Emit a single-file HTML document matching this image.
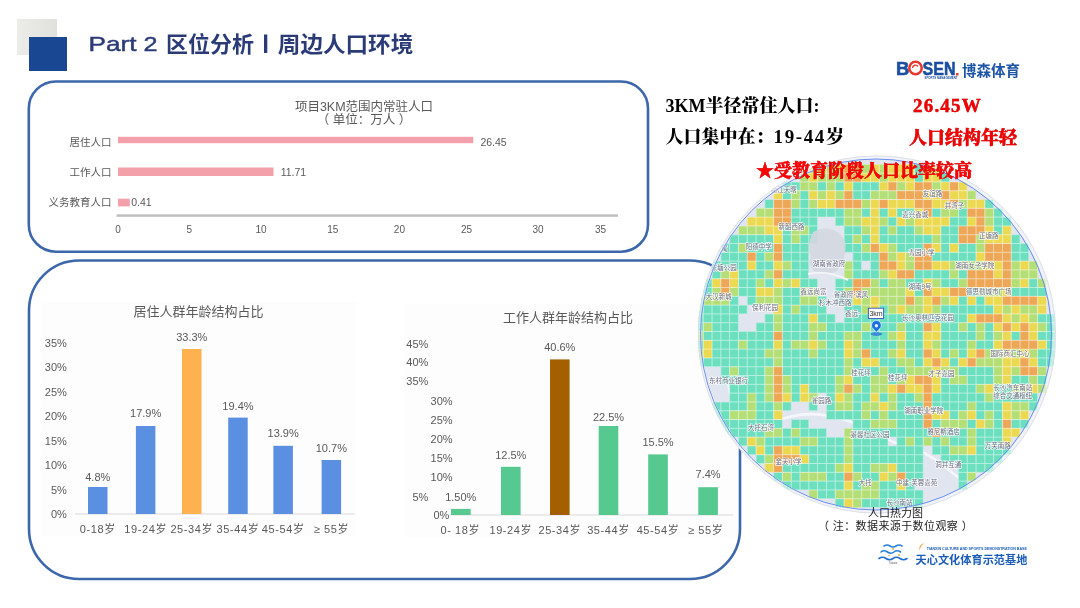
<!DOCTYPE html>
<html><head><meta charset="utf-8"><title>Part 2 区位分析丨周边人口环境</title>
<style>html,body{margin:0;padding:0;background:#fff;}body{width:1080px;height:608px;overflow:hidden;}svg{display:block;}</style>
</head><body>
<svg width="1080" height="608" viewBox="0 0 1080 608">
<rect width="1080" height="608" fill="#ffffff"/>
<defs><linearGradient id="gs" x1="0" x2="1" y1="0" y2="0"><stop offset="0" stop-color="#ececE8"/><stop offset="1" stop-color="#e0e1dc"/></linearGradient></defs>
<rect x="17" y="19" width="40" height="36" fill="url(#gs)"/>
<rect x="29" y="37" width="38" height="34" fill="#1a4791"/>
<text x="88.5" y="51.3" font-size="21" fill="#2a3b78" text-anchor="start" font-family="'Liberation Sans','Noto Sans CJK SC',sans-serif" font-weight="normal" stroke="#2a3b78" stroke-width="0.45" textLength="48" lengthAdjust="spacingAndGlyphs">Part</text>
<text x="143.5" y="51.3" font-size="21" fill="#2a3b78" text-anchor="start" font-family="'Liberation Sans','Noto Sans CJK SC',sans-serif" font-weight="normal" stroke="#2a3b78" stroke-width="0.45" textLength="14" lengthAdjust="spacingAndGlyphs">2</text>
<text x="166" y="51.6" font-size="21.5" fill="#2a3b78" text-anchor="start" font-family="'Liberation Sans','Noto Sans CJK SC',sans-serif" font-weight="bold" textLength="88" lengthAdjust="spacingAndGlyphs">区位分析</text>
<rect x="264" y="34.5" width="3.3" height="18.5" fill="#2a3b78"/>
<text x="277.8" y="51.6" font-size="21.5" fill="#2a3b78" text-anchor="start" font-family="'Liberation Sans','Noto Sans CJK SC',sans-serif" font-weight="bold" textLength="135.5" lengthAdjust="spacingAndGlyphs">周边人口环境</text>
<rect x="28.8" y="81.5" width="619.2" height="170.2" rx="27" fill="none" stroke="#3d67ab" stroke-width="2.6"/>
<rect x="29" y="260.5" width="711" height="318.5" rx="50" fill="none" stroke="#3d67ab" stroke-width="2.6"/>
<text x="364" y="110.5" font-size="12.5" fill="#595959" text-anchor="middle" font-family="'Liberation Sans','Noto Sans CJK SC',sans-serif" font-weight="normal" >项目3KM范围内常驻人口</text>
<text x="364" y="124" font-size="12.5" fill="#595959" text-anchor="middle" font-family="'Liberation Sans','Noto Sans CJK SC',sans-serif" font-weight="normal" >（ 单位：万人 ）</text>
<text x="111.5" y="145.5" font-size="10.5" fill="#595959" text-anchor="end" font-family="'Liberation Sans','Noto Sans CJK SC',sans-serif" font-weight="normal" >居住人口</text>
<text x="111.5" y="176" font-size="10.5" fill="#595959" text-anchor="end" font-family="'Liberation Sans','Noto Sans CJK SC',sans-serif" font-weight="normal" >工作人口</text>
<text x="111.5" y="206.3" font-size="10.5" fill="#595959" text-anchor="end" font-family="'Liberation Sans','Noto Sans CJK SC',sans-serif" font-weight="normal" >义务教育人口</text>
<rect x="118" y="136.8" width="355.3" height="6.4" fill="#f3a0aa"/>
<rect x="118" y="167.5" width="155.5" height="8.5" fill="#f3a0aa"/>
<rect x="118" y="198.7" width="11.8" height="7.7" fill="#f3a0aa"/>
<text x="480.4" y="145.6" font-size="10.5" fill="#595959" text-anchor="start" font-family="'Liberation Sans','Noto Sans CJK SC',sans-serif" font-weight="normal" >26.45</text>
<text x="280.7" y="176" font-size="10.5" fill="#595959" text-anchor="start" font-family="'Liberation Sans','Noto Sans CJK SC',sans-serif" font-weight="normal" >11.71</text>
<text x="131.2" y="206.4" font-size="10.5" fill="#595959" text-anchor="start" font-family="'Liberation Sans','Noto Sans CJK SC',sans-serif" font-weight="normal" >0.41</text>
<rect x="116.6" y="214.3" width="501.4" height="2.5" fill="#bfbfbf"/>
<text x="118" y="233.2" font-size="10" fill="#595959" text-anchor="middle" font-family="'Liberation Sans','Noto Sans CJK SC',sans-serif" font-weight="normal" >0</text>
<text x="189.4" y="233.2" font-size="10" fill="#595959" text-anchor="middle" font-family="'Liberation Sans','Noto Sans CJK SC',sans-serif" font-weight="normal" >5</text>
<text x="261" y="233.2" font-size="10" fill="#595959" text-anchor="middle" font-family="'Liberation Sans','Noto Sans CJK SC',sans-serif" font-weight="normal" >10</text>
<text x="332.7" y="233.2" font-size="10" fill="#595959" text-anchor="middle" font-family="'Liberation Sans','Noto Sans CJK SC',sans-serif" font-weight="normal" >15</text>
<text x="399.4" y="233.2" font-size="10" fill="#595959" text-anchor="middle" font-family="'Liberation Sans','Noto Sans CJK SC',sans-serif" font-weight="normal" >20</text>
<text x="466.5" y="233.2" font-size="10" fill="#595959" text-anchor="middle" font-family="'Liberation Sans','Noto Sans CJK SC',sans-serif" font-weight="normal" >25</text>
<text x="538" y="233.2" font-size="10" fill="#595959" text-anchor="middle" font-family="'Liberation Sans','Noto Sans CJK SC',sans-serif" font-weight="normal" >30</text>
<text x="600.6" y="233.2" font-size="10" fill="#595959" text-anchor="middle" font-family="'Liberation Sans','Noto Sans CJK SC',sans-serif" font-weight="normal" >35</text>
<rect x="41.7" y="302" width="314.3" height="234" fill="#fdfdfd"/>
<rect x="403.8" y="303.8" width="333" height="233" fill="#fdfdfd"/>
<text x="198.5" y="316" font-size="13" fill="#595959" text-anchor="middle" font-family="'Liberation Sans','Noto Sans CJK SC',sans-serif" font-weight="normal" >居住人群年龄结构占比</text>
<text x="66.8" y="518.3" font-size="11" fill="#595959" text-anchor="end" font-family="'Liberation Sans','Noto Sans CJK SC',sans-serif" font-weight="normal" >0%</text>
<text x="66.8" y="493.79999999999995" font-size="11" fill="#595959" text-anchor="end" font-family="'Liberation Sans','Noto Sans CJK SC',sans-serif" font-weight="normal" >5%</text>
<text x="66.8" y="469.29999999999995" font-size="11" fill="#595959" text-anchor="end" font-family="'Liberation Sans','Noto Sans CJK SC',sans-serif" font-weight="normal" >10%</text>
<text x="66.8" y="444.79999999999995" font-size="11" fill="#595959" text-anchor="end" font-family="'Liberation Sans','Noto Sans CJK SC',sans-serif" font-weight="normal" >15%</text>
<text x="66.8" y="420.29999999999995" font-size="11" fill="#595959" text-anchor="end" font-family="'Liberation Sans','Noto Sans CJK SC',sans-serif" font-weight="normal" >20%</text>
<text x="66.8" y="395.79999999999995" font-size="11" fill="#595959" text-anchor="end" font-family="'Liberation Sans','Noto Sans CJK SC',sans-serif" font-weight="normal" >25%</text>
<text x="66.8" y="371.29999999999995" font-size="11" fill="#595959" text-anchor="end" font-family="'Liberation Sans','Noto Sans CJK SC',sans-serif" font-weight="normal" >30%</text>
<text x="66.8" y="346.79999999999995" font-size="11" fill="#595959" text-anchor="end" font-family="'Liberation Sans','Noto Sans CJK SC',sans-serif" font-weight="normal" >35%</text>
<rect x="75" y="513.5" width="279.5" height="1" fill="#d9d9d9"/>
<rect x="88" y="487" width="19.5" height="27.0" fill="#5b8fe1"/>
<text x="97.75" y="481" font-size="11" fill="#595959" text-anchor="middle" font-family="'Liberation Sans','Noto Sans CJK SC',sans-serif" font-weight="normal" >4.8%</text>
<text x="97.75" y="532.5" font-size="11" fill="#595959" text-anchor="middle" font-family="'Liberation Sans','Noto Sans CJK SC',sans-serif" font-weight="normal" letter-spacing="0.6">0-18岁</text>
<rect x="135.9" y="426" width="19.5" height="88.0" fill="#5b8fe1"/>
<text x="145.65" y="417.3" font-size="11" fill="#595959" text-anchor="middle" font-family="'Liberation Sans','Noto Sans CJK SC',sans-serif" font-weight="normal" >17.9%</text>
<text x="145.65" y="532.5" font-size="11" fill="#595959" text-anchor="middle" font-family="'Liberation Sans','Noto Sans CJK SC',sans-serif" font-weight="normal" letter-spacing="0.6">19-24岁</text>
<rect x="182" y="349" width="19.5" height="165.0" fill="#fdb14f"/>
<text x="191.75" y="341.3" font-size="11" fill="#595959" text-anchor="middle" font-family="'Liberation Sans','Noto Sans CJK SC',sans-serif" font-weight="normal" >33.3%</text>
<text x="191.75" y="532.5" font-size="11" fill="#595959" text-anchor="middle" font-family="'Liberation Sans','Noto Sans CJK SC',sans-serif" font-weight="normal" letter-spacing="0.6">25-34岁</text>
<rect x="228.2" y="417.6" width="19.5" height="96.4" fill="#5b8fe1"/>
<text x="237.95" y="409.5" font-size="11" fill="#595959" text-anchor="middle" font-family="'Liberation Sans','Noto Sans CJK SC',sans-serif" font-weight="normal" >19.4%</text>
<text x="237.95" y="532.5" font-size="11" fill="#595959" text-anchor="middle" font-family="'Liberation Sans','Noto Sans CJK SC',sans-serif" font-weight="normal" letter-spacing="0.6">35-44岁</text>
<rect x="273.4" y="445.8" width="19.5" height="68.2" fill="#5b8fe1"/>
<text x="283.15" y="436.6" font-size="11" fill="#595959" text-anchor="middle" font-family="'Liberation Sans','Noto Sans CJK SC',sans-serif" font-weight="normal" >13.9%</text>
<text x="283.15" y="532.5" font-size="11" fill="#595959" text-anchor="middle" font-family="'Liberation Sans','Noto Sans CJK SC',sans-serif" font-weight="normal" letter-spacing="0.6">45-54岁</text>
<rect x="321.6" y="460" width="19.5" height="54.0" fill="#5b8fe1"/>
<text x="331.35" y="452.4" font-size="11" fill="#595959" text-anchor="middle" font-family="'Liberation Sans','Noto Sans CJK SC',sans-serif" font-weight="normal" >10.7%</text>
<text x="331.35" y="532.5" font-size="11" fill="#595959" text-anchor="middle" font-family="'Liberation Sans','Noto Sans CJK SC',sans-serif" font-weight="normal" letter-spacing="0.6">≥ 55岁</text>
<text x="568" y="322" font-size="13" fill="#595959" text-anchor="middle" font-family="'Liberation Sans','Noto Sans CJK SC',sans-serif" font-weight="normal" >工作人群年龄结构占比</text>
<text x="428.4" y="347.5" font-size="11" fill="#595959" text-anchor="end" font-family="'Liberation Sans','Noto Sans CJK SC',sans-serif" font-weight="normal" >45%</text>
<text x="428.4" y="366.2" font-size="11" fill="#595959" text-anchor="end" font-family="'Liberation Sans','Noto Sans CJK SC',sans-serif" font-weight="normal" >40%</text>
<text x="428.4" y="385" font-size="11" fill="#595959" text-anchor="end" font-family="'Liberation Sans','Noto Sans CJK SC',sans-serif" font-weight="normal" >35%</text>
<text x="452.6" y="405" font-size="11" fill="#595959" text-anchor="end" font-family="'Liberation Sans','Noto Sans CJK SC',sans-serif" font-weight="normal" >30%</text>
<text x="452.6" y="424" font-size="11" fill="#595959" text-anchor="end" font-family="'Liberation Sans','Noto Sans CJK SC',sans-serif" font-weight="normal" >25%</text>
<text x="452.6" y="443.3" font-size="11" fill="#595959" text-anchor="end" font-family="'Liberation Sans','Noto Sans CJK SC',sans-serif" font-weight="normal" >20%</text>
<text x="452.6" y="462" font-size="11" fill="#595959" text-anchor="end" font-family="'Liberation Sans','Noto Sans CJK SC',sans-serif" font-weight="normal" >15%</text>
<text x="452.6" y="481" font-size="11" fill="#595959" text-anchor="end" font-family="'Liberation Sans','Noto Sans CJK SC',sans-serif" font-weight="normal" >10%</text>
<text x="428.4" y="500.6" font-size="11" fill="#595959" text-anchor="end" font-family="'Liberation Sans','Noto Sans CJK SC',sans-serif" font-weight="normal" >5%</text>
<text x="449.4" y="519" font-size="11" fill="#595959" text-anchor="end" font-family="'Liberation Sans','Noto Sans CJK SC',sans-serif" font-weight="normal" >0%</text>
<rect x="450.3" y="514.5" width="283" height="1" fill="#d9d9d9"/>
<rect x="451" y="508.9" width="19.6" height="6.1" fill="#55c990"/>
<text x="460.8" y="500.6" font-size="11" fill="#595959" text-anchor="middle" font-family="'Liberation Sans','Noto Sans CJK SC',sans-serif" font-weight="normal" >1.50%</text>
<text x="460.3" y="533.5" font-size="11" fill="#595959" text-anchor="middle" font-family="'Liberation Sans','Noto Sans CJK SC',sans-serif" font-weight="normal" letter-spacing="0.6">0- 18岁</text>
<rect x="501" y="466.8" width="19.6" height="48.2" fill="#55c990"/>
<text x="510.8" y="458.7" font-size="11" fill="#595959" text-anchor="middle" font-family="'Liberation Sans','Noto Sans CJK SC',sans-serif" font-weight="normal" >12.5%</text>
<text x="510.8" y="533.5" font-size="11" fill="#595959" text-anchor="middle" font-family="'Liberation Sans','Noto Sans CJK SC',sans-serif" font-weight="normal" letter-spacing="0.6">19-24岁</text>
<rect x="550" y="359.4" width="19.6" height="155.6" fill="#a35f00"/>
<text x="559.8" y="350.7" font-size="11" fill="#595959" text-anchor="middle" font-family="'Liberation Sans','Noto Sans CJK SC',sans-serif" font-weight="normal" >40.6%</text>
<text x="559.8" y="533.5" font-size="11" fill="#595959" text-anchor="middle" font-family="'Liberation Sans','Noto Sans CJK SC',sans-serif" font-weight="normal" letter-spacing="0.6">25-34岁</text>
<rect x="598.7" y="426" width="19.6" height="89.0" fill="#55c990"/>
<text x="608.5" y="420.5" font-size="11" fill="#595959" text-anchor="middle" font-family="'Liberation Sans','Noto Sans CJK SC',sans-serif" font-weight="normal" >22.5%</text>
<text x="608.5" y="533.5" font-size="11" fill="#595959" text-anchor="middle" font-family="'Liberation Sans','Noto Sans CJK SC',sans-serif" font-weight="normal" letter-spacing="0.6">35-44岁</text>
<rect x="648.2" y="454.4" width="19.6" height="60.6" fill="#55c990"/>
<text x="658.0" y="446.4" font-size="11" fill="#595959" text-anchor="middle" font-family="'Liberation Sans','Noto Sans CJK SC',sans-serif" font-weight="normal" >15.5%</text>
<text x="658.0" y="533.5" font-size="11" fill="#595959" text-anchor="middle" font-family="'Liberation Sans','Noto Sans CJK SC',sans-serif" font-weight="normal" letter-spacing="0.6">45-54岁</text>
<rect x="698.3" y="487.2" width="19.6" height="27.8" fill="#55c990"/>
<text x="708.0999999999999" y="478" font-size="11" fill="#595959" text-anchor="middle" font-family="'Liberation Sans','Noto Sans CJK SC',sans-serif" font-weight="normal" >7.4%</text>
<text x="705.5999999999999" y="533.5" font-size="11" fill="#595959" text-anchor="middle" font-family="'Liberation Sans','Noto Sans CJK SC',sans-serif" font-weight="normal" letter-spacing="0.6">≥ 55岁</text>
<clipPath id="mc"><circle cx="877" cy="334.5" r="179"/></clipPath>
<pattern id="gp" patternUnits="userSpaceOnUse" x="693.95" y="146.25" width="8.8" height="8.8"><rect x="0" y="0" width="8.8" height="0.9" fill="#ffffff" fill-opacity="0.55"/><rect x="0" y="0.9" width="0.9" height="7.9" fill="#ffffff" fill-opacity="0.55"/></pattern>
<g clip-path="url(#mc)">
<rect x="698" y="155.5" width="358" height="358" fill="#e0e5ef"/>
<path d="M772 423 Q800 410 830 416 T893 442 Q925 450 944 466 T962 478" fill="none" stroke="#f4f6fa" stroke-width="2.6"/>
<path d="M700 300 Q730 330 728 372 T760 430" fill="none" stroke="#f4f6fa" stroke-width="2"/>
<path fill="#6cdfbf" d="M914.4 164.3h8.8v8.8h-8.8zM914.4 173.1h8.8v8.8h-8.8zM940.8 173.1h8.8v8.8h-8.8zM782.4 181.9h8.8v8.8h-8.8zM791.2 181.9h8.8v8.8h-8.8zM817.6 181.9h8.8v8.8h-8.8zM835.2 181.9h8.8v8.8h-8.8zM852.8 181.9h8.8v8.8h-8.8zM861.6 181.9h8.8v8.8h-8.8zM870.4 181.9h8.8v8.8h-8.8zM782.4 190.7h8.8v8.8h-8.8zM800.0 190.7h8.8v8.8h-8.8zM852.8 190.7h8.8v8.8h-8.8zM861.6 190.7h8.8v8.8h-8.8zM764.8 199.5h8.8v8.8h-8.8zM800.0 199.5h8.8v8.8h-8.8zM984.8 199.5h8.8v8.8h-8.8zM791.2 208.3h8.8v8.8h-8.8zM800.0 208.3h8.8v8.8h-8.8zM808.8 208.3h8.8v8.8h-8.8zM817.6 208.3h8.8v8.8h-8.8zM826.4 208.3h8.8v8.8h-8.8zM835.2 208.3h8.8v8.8h-8.8zM861.6 208.3h8.8v8.8h-8.8zM879.2 208.3h8.8v8.8h-8.8zM896.8 208.3h8.8v8.8h-8.8zM905.6 208.3h8.8v8.8h-8.8zM932.0 208.3h8.8v8.8h-8.8zM958.4 208.3h8.8v8.8h-8.8zM993.6 208.3h8.8v8.8h-8.8zM791.2 217.1h8.8v8.8h-8.8zM800.0 217.1h8.8v8.8h-8.8zM808.8 217.1h8.8v8.8h-8.8zM835.2 217.1h8.8v8.8h-8.8zM888.0 217.1h8.8v8.8h-8.8zM949.6 217.1h8.8v8.8h-8.8zM958.4 217.1h8.8v8.8h-8.8zM993.6 217.1h8.8v8.8h-8.8zM1002.4 217.1h8.8v8.8h-8.8zM782.4 225.9h8.8v8.8h-8.8zM808.8 225.9h8.8v8.8h-8.8zM844.0 225.9h8.8v8.8h-8.8zM852.8 225.9h8.8v8.8h-8.8zM879.2 225.9h8.8v8.8h-8.8zM896.8 225.9h8.8v8.8h-8.8zM905.6 225.9h8.8v8.8h-8.8zM940.8 225.9h8.8v8.8h-8.8zM949.6 225.9h8.8v8.8h-8.8zM993.6 225.9h8.8v8.8h-8.8zM729.6 234.7h8.8v8.8h-8.8zM738.4 234.7h8.8v8.8h-8.8zM747.2 234.7h8.8v8.8h-8.8zM756.0 234.7h8.8v8.8h-8.8zM764.8 234.7h8.8v8.8h-8.8zM782.4 234.7h8.8v8.8h-8.8zM800.0 234.7h8.8v8.8h-8.8zM808.8 234.7h8.8v8.8h-8.8zM844.0 234.7h8.8v8.8h-8.8zM861.6 234.7h8.8v8.8h-8.8zM879.2 234.7h8.8v8.8h-8.8zM888.0 234.7h8.8v8.8h-8.8zM896.8 234.7h8.8v8.8h-8.8zM905.6 234.7h8.8v8.8h-8.8zM914.4 234.7h8.8v8.8h-8.8zM923.2 234.7h8.8v8.8h-8.8zM940.8 234.7h8.8v8.8h-8.8zM949.6 234.7h8.8v8.8h-8.8zM1011.2 234.7h8.8v8.8h-8.8zM720.8 243.5h8.8v8.8h-8.8zM729.6 243.5h8.8v8.8h-8.8zM747.2 243.5h8.8v8.8h-8.8zM756.0 243.5h8.8v8.8h-8.8zM764.8 243.5h8.8v8.8h-8.8zM782.4 243.5h8.8v8.8h-8.8zM791.2 243.5h8.8v8.8h-8.8zM800.0 243.5h8.8v8.8h-8.8zM844.0 243.5h8.8v8.8h-8.8zM852.8 243.5h8.8v8.8h-8.8zM896.8 243.5h8.8v8.8h-8.8zM905.6 243.5h8.8v8.8h-8.8zM914.4 243.5h8.8v8.8h-8.8zM940.8 243.5h8.8v8.8h-8.8zM958.4 243.5h8.8v8.8h-8.8zM967.2 243.5h8.8v8.8h-8.8zM1011.2 243.5h8.8v8.8h-8.8zM1020.0 243.5h8.8v8.8h-8.8zM720.8 252.3h8.8v8.8h-8.8zM729.6 252.3h8.8v8.8h-8.8zM738.4 252.3h8.8v8.8h-8.8zM756.0 252.3h8.8v8.8h-8.8zM782.4 252.3h8.8v8.8h-8.8zM791.2 252.3h8.8v8.8h-8.8zM800.0 252.3h8.8v8.8h-8.8zM852.8 252.3h8.8v8.8h-8.8zM861.6 252.3h8.8v8.8h-8.8zM870.4 252.3h8.8v8.8h-8.8zM932.0 252.3h8.8v8.8h-8.8zM940.8 252.3h8.8v8.8h-8.8zM949.6 252.3h8.8v8.8h-8.8zM958.4 252.3h8.8v8.8h-8.8zM967.2 252.3h8.8v8.8h-8.8zM1011.2 252.3h8.8v8.8h-8.8zM1020.0 252.3h8.8v8.8h-8.8zM712.0 261.1h8.8v8.8h-8.8zM720.8 261.1h8.8v8.8h-8.8zM729.6 261.1h8.8v8.8h-8.8zM738.4 261.1h8.8v8.8h-8.8zM756.0 261.1h8.8v8.8h-8.8zM764.8 261.1h8.8v8.8h-8.8zM791.2 261.1h8.8v8.8h-8.8zM800.0 261.1h8.8v8.8h-8.8zM852.8 261.1h8.8v8.8h-8.8zM870.4 261.1h8.8v8.8h-8.8zM712.0 269.9h8.8v8.8h-8.8zM738.4 269.9h8.8v8.8h-8.8zM747.2 269.9h8.8v8.8h-8.8zM756.0 269.9h8.8v8.8h-8.8zM782.4 269.9h8.8v8.8h-8.8zM791.2 269.9h8.8v8.8h-8.8zM800.0 269.9h8.8v8.8h-8.8zM852.8 269.9h8.8v8.8h-8.8zM861.6 269.9h8.8v8.8h-8.8zM870.4 269.9h8.8v8.8h-8.8zM914.4 269.9h8.8v8.8h-8.8zM923.2 269.9h8.8v8.8h-8.8zM932.0 269.9h8.8v8.8h-8.8zM940.8 269.9h8.8v8.8h-8.8zM958.4 269.9h8.8v8.8h-8.8zM703.2 278.7h8.8v8.8h-8.8zM738.4 278.7h8.8v8.8h-8.8zM747.2 278.7h8.8v8.8h-8.8zM764.8 278.7h8.8v8.8h-8.8zM800.0 278.7h8.8v8.8h-8.8zM808.8 278.7h8.8v8.8h-8.8zM835.2 278.7h8.8v8.8h-8.8zM844.0 278.7h8.8v8.8h-8.8zM879.2 278.7h8.8v8.8h-8.8zM905.6 278.7h8.8v8.8h-8.8zM914.4 278.7h8.8v8.8h-8.8zM940.8 278.7h8.8v8.8h-8.8zM949.6 278.7h8.8v8.8h-8.8zM1028.8 278.7h8.8v8.8h-8.8zM703.2 287.5h8.8v8.8h-8.8zM738.4 287.5h8.8v8.8h-8.8zM747.2 287.5h8.8v8.8h-8.8zM782.4 287.5h8.8v8.8h-8.8zM791.2 287.5h8.8v8.8h-8.8zM835.2 287.5h8.8v8.8h-8.8zM914.4 287.5h8.8v8.8h-8.8zM967.2 287.5h8.8v8.8h-8.8zM1011.2 287.5h8.8v8.8h-8.8zM1020.0 287.5h8.8v8.8h-8.8zM1028.8 287.5h8.8v8.8h-8.8zM1037.6 287.5h8.8v8.8h-8.8zM694.4 296.3h8.8v8.8h-8.8zM729.6 296.3h8.8v8.8h-8.8zM747.2 296.3h8.8v8.8h-8.8zM782.4 296.3h8.8v8.8h-8.8zM791.2 296.3h8.8v8.8h-8.8zM817.6 296.3h8.8v8.8h-8.8zM835.2 296.3h8.8v8.8h-8.8zM844.0 296.3h8.8v8.8h-8.8zM958.4 296.3h8.8v8.8h-8.8zM976.0 296.3h8.8v8.8h-8.8zM694.4 305.1h8.8v8.8h-8.8zM703.2 305.1h8.8v8.8h-8.8zM712.0 305.1h8.8v8.8h-8.8zM720.8 305.1h8.8v8.8h-8.8zM729.6 305.1h8.8v8.8h-8.8zM738.4 305.1h8.8v8.8h-8.8zM782.4 305.1h8.8v8.8h-8.8zM800.0 305.1h8.8v8.8h-8.8zM808.8 305.1h8.8v8.8h-8.8zM817.6 305.1h8.8v8.8h-8.8zM844.0 305.1h8.8v8.8h-8.8zM852.8 305.1h8.8v8.8h-8.8zM879.2 305.1h8.8v8.8h-8.8zM940.8 305.1h8.8v8.8h-8.8zM949.6 305.1h8.8v8.8h-8.8zM958.4 305.1h8.8v8.8h-8.8zM967.2 305.1h8.8v8.8h-8.8zM976.0 305.1h8.8v8.8h-8.8zM984.8 305.1h8.8v8.8h-8.8zM694.4 313.9h8.8v8.8h-8.8zM703.2 313.9h8.8v8.8h-8.8zM712.0 313.9h8.8v8.8h-8.8zM720.8 313.9h8.8v8.8h-8.8zM729.6 313.9h8.8v8.8h-8.8zM764.8 313.9h8.8v8.8h-8.8zM782.4 313.9h8.8v8.8h-8.8zM791.2 313.9h8.8v8.8h-8.8zM800.0 313.9h8.8v8.8h-8.8zM817.6 313.9h8.8v8.8h-8.8zM826.4 313.9h8.8v8.8h-8.8zM844.0 313.9h8.8v8.8h-8.8zM852.8 313.9h8.8v8.8h-8.8zM861.6 313.9h8.8v8.8h-8.8zM870.4 313.9h8.8v8.8h-8.8zM879.2 313.9h8.8v8.8h-8.8zM888.0 313.9h8.8v8.8h-8.8zM896.8 313.9h8.8v8.8h-8.8zM905.6 313.9h8.8v8.8h-8.8zM914.4 313.9h8.8v8.8h-8.8zM923.2 313.9h8.8v8.8h-8.8zM932.0 313.9h8.8v8.8h-8.8zM940.8 313.9h8.8v8.8h-8.8zM949.6 313.9h8.8v8.8h-8.8zM958.4 313.9h8.8v8.8h-8.8zM1037.6 313.9h8.8v8.8h-8.8zM1046.4 313.9h8.8v8.8h-8.8zM694.4 322.7h8.8v8.8h-8.8zM712.0 322.7h8.8v8.8h-8.8zM720.8 322.7h8.8v8.8h-8.8zM729.6 322.7h8.8v8.8h-8.8zM756.0 322.7h8.8v8.8h-8.8zM764.8 322.7h8.8v8.8h-8.8zM782.4 322.7h8.8v8.8h-8.8zM791.2 322.7h8.8v8.8h-8.8zM800.0 322.7h8.8v8.8h-8.8zM826.4 322.7h8.8v8.8h-8.8zM835.2 322.7h8.8v8.8h-8.8zM844.0 322.7h8.8v8.8h-8.8zM852.8 322.7h8.8v8.8h-8.8zM870.4 322.7h8.8v8.8h-8.8zM879.2 322.7h8.8v8.8h-8.8zM888.0 322.7h8.8v8.8h-8.8zM905.6 322.7h8.8v8.8h-8.8zM914.4 322.7h8.8v8.8h-8.8zM940.8 322.7h8.8v8.8h-8.8zM949.6 322.7h8.8v8.8h-8.8zM967.2 322.7h8.8v8.8h-8.8zM984.8 322.7h8.8v8.8h-8.8zM1046.4 322.7h8.8v8.8h-8.8zM703.2 331.5h8.8v8.8h-8.8zM712.0 331.5h8.8v8.8h-8.8zM720.8 331.5h8.8v8.8h-8.8zM729.6 331.5h8.8v8.8h-8.8zM738.4 331.5h8.8v8.8h-8.8zM747.2 331.5h8.8v8.8h-8.8zM756.0 331.5h8.8v8.8h-8.8zM764.8 331.5h8.8v8.8h-8.8zM782.4 331.5h8.8v8.8h-8.8zM791.2 331.5h8.8v8.8h-8.8zM800.0 331.5h8.8v8.8h-8.8zM817.6 331.5h8.8v8.8h-8.8zM826.4 331.5h8.8v8.8h-8.8zM835.2 331.5h8.8v8.8h-8.8zM861.6 331.5h8.8v8.8h-8.8zM870.4 331.5h8.8v8.8h-8.8zM879.2 331.5h8.8v8.8h-8.8zM905.6 331.5h8.8v8.8h-8.8zM914.4 331.5h8.8v8.8h-8.8zM940.8 331.5h8.8v8.8h-8.8zM949.6 331.5h8.8v8.8h-8.8zM958.4 331.5h8.8v8.8h-8.8zM967.2 331.5h8.8v8.8h-8.8zM984.8 331.5h8.8v8.8h-8.8zM1011.2 331.5h8.8v8.8h-8.8zM1037.6 331.5h8.8v8.8h-8.8zM1046.4 331.5h8.8v8.8h-8.8zM694.4 340.3h8.8v8.8h-8.8zM712.0 340.3h8.8v8.8h-8.8zM720.8 340.3h8.8v8.8h-8.8zM729.6 340.3h8.8v8.8h-8.8zM747.2 340.3h8.8v8.8h-8.8zM756.0 340.3h8.8v8.8h-8.8zM764.8 340.3h8.8v8.8h-8.8zM782.4 340.3h8.8v8.8h-8.8zM826.4 340.3h8.8v8.8h-8.8zM835.2 340.3h8.8v8.8h-8.8zM861.6 340.3h8.8v8.8h-8.8zM870.4 340.3h8.8v8.8h-8.8zM879.2 340.3h8.8v8.8h-8.8zM888.0 340.3h8.8v8.8h-8.8zM905.6 340.3h8.8v8.8h-8.8zM914.4 340.3h8.8v8.8h-8.8zM940.8 340.3h8.8v8.8h-8.8zM949.6 340.3h8.8v8.8h-8.8zM958.4 340.3h8.8v8.8h-8.8zM976.0 340.3h8.8v8.8h-8.8zM984.8 340.3h8.8v8.8h-8.8zM1046.4 340.3h8.8v8.8h-8.8zM712.0 349.1h8.8v8.8h-8.8zM720.8 349.1h8.8v8.8h-8.8zM729.6 349.1h8.8v8.8h-8.8zM738.4 349.1h8.8v8.8h-8.8zM747.2 349.1h8.8v8.8h-8.8zM756.0 349.1h8.8v8.8h-8.8zM782.4 349.1h8.8v8.8h-8.8zM791.2 349.1h8.8v8.8h-8.8zM800.0 349.1h8.8v8.8h-8.8zM817.6 349.1h8.8v8.8h-8.8zM826.4 349.1h8.8v8.8h-8.8zM835.2 349.1h8.8v8.8h-8.8zM870.4 349.1h8.8v8.8h-8.8zM879.2 349.1h8.8v8.8h-8.8zM905.6 349.1h8.8v8.8h-8.8zM914.4 349.1h8.8v8.8h-8.8zM940.8 349.1h8.8v8.8h-8.8zM958.4 349.1h8.8v8.8h-8.8zM1037.6 349.1h8.8v8.8h-8.8zM1046.4 349.1h8.8v8.8h-8.8zM694.4 357.9h8.8v8.8h-8.8zM703.2 357.9h8.8v8.8h-8.8zM712.0 357.9h8.8v8.8h-8.8zM720.8 357.9h8.8v8.8h-8.8zM729.6 357.9h8.8v8.8h-8.8zM738.4 357.9h8.8v8.8h-8.8zM747.2 357.9h8.8v8.8h-8.8zM756.0 357.9h8.8v8.8h-8.8zM764.8 357.9h8.8v8.8h-8.8zM782.4 357.9h8.8v8.8h-8.8zM791.2 357.9h8.8v8.8h-8.8zM800.0 357.9h8.8v8.8h-8.8zM808.8 357.9h8.8v8.8h-8.8zM817.6 357.9h8.8v8.8h-8.8zM826.4 357.9h8.8v8.8h-8.8zM835.2 357.9h8.8v8.8h-8.8zM852.8 357.9h8.8v8.8h-8.8zM879.2 357.9h8.8v8.8h-8.8zM888.0 357.9h8.8v8.8h-8.8zM914.4 357.9h8.8v8.8h-8.8zM949.6 357.9h8.8v8.8h-8.8zM1037.6 357.9h8.8v8.8h-8.8zM1046.4 357.9h8.8v8.8h-8.8zM720.8 366.7h8.8v8.8h-8.8zM738.4 366.7h8.8v8.8h-8.8zM747.2 366.7h8.8v8.8h-8.8zM756.0 366.7h8.8v8.8h-8.8zM782.4 366.7h8.8v8.8h-8.8zM791.2 366.7h8.8v8.8h-8.8zM800.0 366.7h8.8v8.8h-8.8zM808.8 366.7h8.8v8.8h-8.8zM817.6 366.7h8.8v8.8h-8.8zM826.4 366.7h8.8v8.8h-8.8zM835.2 366.7h8.8v8.8h-8.8zM852.8 366.7h8.8v8.8h-8.8zM861.6 366.7h8.8v8.8h-8.8zM870.4 366.7h8.8v8.8h-8.8zM888.0 366.7h8.8v8.8h-8.8zM896.8 366.7h8.8v8.8h-8.8zM958.4 366.7h8.8v8.8h-8.8zM967.2 366.7h8.8v8.8h-8.8zM976.0 366.7h8.8v8.8h-8.8zM984.8 366.7h8.8v8.8h-8.8zM720.8 375.5h8.8v8.8h-8.8zM729.6 375.5h8.8v8.8h-8.8zM738.4 375.5h8.8v8.8h-8.8zM747.2 375.5h8.8v8.8h-8.8zM756.0 375.5h8.8v8.8h-8.8zM791.2 375.5h8.8v8.8h-8.8zM800.0 375.5h8.8v8.8h-8.8zM808.8 375.5h8.8v8.8h-8.8zM817.6 375.5h8.8v8.8h-8.8zM826.4 375.5h8.8v8.8h-8.8zM852.8 375.5h8.8v8.8h-8.8zM861.6 375.5h8.8v8.8h-8.8zM888.0 375.5h8.8v8.8h-8.8zM940.8 375.5h8.8v8.8h-8.8zM967.2 375.5h8.8v8.8h-8.8zM976.0 375.5h8.8v8.8h-8.8zM984.8 375.5h8.8v8.8h-8.8zM1011.2 375.5h8.8v8.8h-8.8zM1020.0 375.5h8.8v8.8h-8.8zM1037.6 375.5h8.8v8.8h-8.8zM729.6 384.3h8.8v8.8h-8.8zM738.4 384.3h8.8v8.8h-8.8zM747.2 384.3h8.8v8.8h-8.8zM756.0 384.3h8.8v8.8h-8.8zM791.2 384.3h8.8v8.8h-8.8zM808.8 384.3h8.8v8.8h-8.8zM817.6 384.3h8.8v8.8h-8.8zM826.4 384.3h8.8v8.8h-8.8zM861.6 384.3h8.8v8.8h-8.8zM940.8 384.3h8.8v8.8h-8.8zM949.6 384.3h8.8v8.8h-8.8zM958.4 384.3h8.8v8.8h-8.8zM967.2 384.3h8.8v8.8h-8.8zM993.6 384.3h8.8v8.8h-8.8zM1002.4 384.3h8.8v8.8h-8.8zM729.6 393.1h8.8v8.8h-8.8zM738.4 393.1h8.8v8.8h-8.8zM756.0 393.1h8.8v8.8h-8.8zM791.2 393.1h8.8v8.8h-8.8zM826.4 393.1h8.8v8.8h-8.8zM852.8 393.1h8.8v8.8h-8.8zM861.6 393.1h8.8v8.8h-8.8zM879.2 393.1h8.8v8.8h-8.8zM896.8 393.1h8.8v8.8h-8.8zM905.6 393.1h8.8v8.8h-8.8zM932.0 393.1h8.8v8.8h-8.8zM940.8 393.1h8.8v8.8h-8.8zM949.6 393.1h8.8v8.8h-8.8zM958.4 393.1h8.8v8.8h-8.8zM967.2 393.1h8.8v8.8h-8.8zM976.0 393.1h8.8v8.8h-8.8zM993.6 393.1h8.8v8.8h-8.8zM1002.4 393.1h8.8v8.8h-8.8zM1011.2 393.1h8.8v8.8h-8.8zM1020.0 393.1h8.8v8.8h-8.8zM1028.8 393.1h8.8v8.8h-8.8zM712.0 401.9h8.8v8.8h-8.8zM720.8 401.9h8.8v8.8h-8.8zM729.6 401.9h8.8v8.8h-8.8zM738.4 401.9h8.8v8.8h-8.8zM756.0 401.9h8.8v8.8h-8.8zM764.8 401.9h8.8v8.8h-8.8zM782.4 401.9h8.8v8.8h-8.8zM808.8 401.9h8.8v8.8h-8.8zM826.4 401.9h8.8v8.8h-8.8zM852.8 401.9h8.8v8.8h-8.8zM896.8 401.9h8.8v8.8h-8.8zM905.6 401.9h8.8v8.8h-8.8zM914.4 401.9h8.8v8.8h-8.8zM932.0 401.9h8.8v8.8h-8.8zM940.8 401.9h8.8v8.8h-8.8zM949.6 401.9h8.8v8.8h-8.8zM958.4 401.9h8.8v8.8h-8.8zM976.0 401.9h8.8v8.8h-8.8zM984.8 401.9h8.8v8.8h-8.8zM993.6 401.9h8.8v8.8h-8.8zM1028.8 401.9h8.8v8.8h-8.8zM712.0 410.7h8.8v8.8h-8.8zM720.8 410.7h8.8v8.8h-8.8zM756.0 410.7h8.8v8.8h-8.8zM764.8 410.7h8.8v8.8h-8.8zM826.4 410.7h8.8v8.8h-8.8zM835.2 410.7h8.8v8.8h-8.8zM844.0 410.7h8.8v8.8h-8.8zM852.8 410.7h8.8v8.8h-8.8zM870.4 410.7h8.8v8.8h-8.8zM888.0 410.7h8.8v8.8h-8.8zM896.8 410.7h8.8v8.8h-8.8zM905.6 410.7h8.8v8.8h-8.8zM914.4 410.7h8.8v8.8h-8.8zM949.6 410.7h8.8v8.8h-8.8zM976.0 410.7h8.8v8.8h-8.8zM993.6 410.7h8.8v8.8h-8.8zM720.8 419.5h8.8v8.8h-8.8zM729.6 419.5h8.8v8.8h-8.8zM738.4 419.5h8.8v8.8h-8.8zM747.2 419.5h8.8v8.8h-8.8zM756.0 419.5h8.8v8.8h-8.8zM764.8 419.5h8.8v8.8h-8.8zM773.6 419.5h8.8v8.8h-8.8zM791.2 419.5h8.8v8.8h-8.8zM800.0 419.5h8.8v8.8h-8.8zM852.8 419.5h8.8v8.8h-8.8zM861.6 419.5h8.8v8.8h-8.8zM896.8 419.5h8.8v8.8h-8.8zM905.6 419.5h8.8v8.8h-8.8zM914.4 419.5h8.8v8.8h-8.8zM932.0 419.5h8.8v8.8h-8.8zM967.2 419.5h8.8v8.8h-8.8zM993.6 419.5h8.8v8.8h-8.8zM1011.2 419.5h8.8v8.8h-8.8zM1020.0 419.5h8.8v8.8h-8.8zM720.8 428.3h8.8v8.8h-8.8zM729.6 428.3h8.8v8.8h-8.8zM738.4 428.3h8.8v8.8h-8.8zM747.2 428.3h8.8v8.8h-8.8zM756.0 428.3h8.8v8.8h-8.8zM782.4 428.3h8.8v8.8h-8.8zM800.0 428.3h8.8v8.8h-8.8zM808.8 428.3h8.8v8.8h-8.8zM817.6 428.3h8.8v8.8h-8.8zM852.8 428.3h8.8v8.8h-8.8zM861.6 428.3h8.8v8.8h-8.8zM870.4 428.3h8.8v8.8h-8.8zM879.2 428.3h8.8v8.8h-8.8zM888.0 428.3h8.8v8.8h-8.8zM896.8 428.3h8.8v8.8h-8.8zM905.6 428.3h8.8v8.8h-8.8zM914.4 428.3h8.8v8.8h-8.8zM923.2 428.3h8.8v8.8h-8.8zM940.8 428.3h8.8v8.8h-8.8zM949.6 428.3h8.8v8.8h-8.8zM958.4 428.3h8.8v8.8h-8.8zM976.0 428.3h8.8v8.8h-8.8zM984.8 428.3h8.8v8.8h-8.8zM993.6 428.3h8.8v8.8h-8.8zM738.4 437.1h8.8v8.8h-8.8zM764.8 437.1h8.8v8.8h-8.8zM773.6 437.1h8.8v8.8h-8.8zM782.4 437.1h8.8v8.8h-8.8zM791.2 437.1h8.8v8.8h-8.8zM817.6 437.1h8.8v8.8h-8.8zM826.4 437.1h8.8v8.8h-8.8zM835.2 437.1h8.8v8.8h-8.8zM852.8 437.1h8.8v8.8h-8.8zM861.6 437.1h8.8v8.8h-8.8zM870.4 437.1h8.8v8.8h-8.8zM879.2 437.1h8.8v8.8h-8.8zM896.8 437.1h8.8v8.8h-8.8zM914.4 437.1h8.8v8.8h-8.8zM932.0 437.1h8.8v8.8h-8.8zM949.6 437.1h8.8v8.8h-8.8zM958.4 437.1h8.8v8.8h-8.8zM976.0 437.1h8.8v8.8h-8.8zM984.8 437.1h8.8v8.8h-8.8zM993.6 437.1h8.8v8.8h-8.8zM747.2 445.9h8.8v8.8h-8.8zM764.8 445.9h8.8v8.8h-8.8zM800.0 445.9h8.8v8.8h-8.8zM808.8 445.9h8.8v8.8h-8.8zM817.6 445.9h8.8v8.8h-8.8zM826.4 445.9h8.8v8.8h-8.8zM835.2 445.9h8.8v8.8h-8.8zM852.8 445.9h8.8v8.8h-8.8zM861.6 445.9h8.8v8.8h-8.8zM870.4 445.9h8.8v8.8h-8.8zM879.2 445.9h8.8v8.8h-8.8zM888.0 445.9h8.8v8.8h-8.8zM896.8 445.9h8.8v8.8h-8.8zM905.6 445.9h8.8v8.8h-8.8zM914.4 445.9h8.8v8.8h-8.8zM932.0 445.9h8.8v8.8h-8.8zM940.8 445.9h8.8v8.8h-8.8zM976.0 445.9h8.8v8.8h-8.8zM984.8 445.9h8.8v8.8h-8.8zM993.6 445.9h8.8v8.8h-8.8zM1002.4 445.9h8.8v8.8h-8.8zM756.0 454.7h8.8v8.8h-8.8zM808.8 454.7h8.8v8.8h-8.8zM817.6 454.7h8.8v8.8h-8.8zM826.4 454.7h8.8v8.8h-8.8zM835.2 454.7h8.8v8.8h-8.8zM852.8 454.7h8.8v8.8h-8.8zM861.6 454.7h8.8v8.8h-8.8zM870.4 454.7h8.8v8.8h-8.8zM879.2 454.7h8.8v8.8h-8.8zM888.0 454.7h8.8v8.8h-8.8zM896.8 454.7h8.8v8.8h-8.8zM905.6 454.7h8.8v8.8h-8.8zM914.4 454.7h8.8v8.8h-8.8zM940.8 454.7h8.8v8.8h-8.8zM949.6 454.7h8.8v8.8h-8.8zM958.4 454.7h8.8v8.8h-8.8zM967.2 454.7h8.8v8.8h-8.8zM976.0 454.7h8.8v8.8h-8.8zM984.8 454.7h8.8v8.8h-8.8zM993.6 454.7h8.8v8.8h-8.8zM782.4 463.5h8.8v8.8h-8.8zM791.2 463.5h8.8v8.8h-8.8zM800.0 463.5h8.8v8.8h-8.8zM808.8 463.5h8.8v8.8h-8.8zM817.6 463.5h8.8v8.8h-8.8zM826.4 463.5h8.8v8.8h-8.8zM852.8 463.5h8.8v8.8h-8.8zM861.6 463.5h8.8v8.8h-8.8zM896.8 463.5h8.8v8.8h-8.8zM905.6 463.5h8.8v8.8h-8.8zM914.4 463.5h8.8v8.8h-8.8zM958.4 463.5h8.8v8.8h-8.8zM967.2 463.5h8.8v8.8h-8.8zM976.0 463.5h8.8v8.8h-8.8zM984.8 463.5h8.8v8.8h-8.8zM773.6 472.3h8.8v8.8h-8.8zM791.2 472.3h8.8v8.8h-8.8zM826.4 472.3h8.8v8.8h-8.8zM835.2 472.3h8.8v8.8h-8.8zM861.6 472.3h8.8v8.8h-8.8zM870.4 472.3h8.8v8.8h-8.8zM905.6 472.3h8.8v8.8h-8.8zM914.4 472.3h8.8v8.8h-8.8zM958.4 472.3h8.8v8.8h-8.8zM782.4 481.1h8.8v8.8h-8.8zM791.2 481.1h8.8v8.8h-8.8zM800.0 481.1h8.8v8.8h-8.8zM808.8 481.1h8.8v8.8h-8.8zM817.6 481.1h8.8v8.8h-8.8zM826.4 481.1h8.8v8.8h-8.8zM835.2 481.1h8.8v8.8h-8.8zM852.8 481.1h8.8v8.8h-8.8zM879.2 481.1h8.8v8.8h-8.8zM888.0 481.1h8.8v8.8h-8.8zM905.6 481.1h8.8v8.8h-8.8zM958.4 481.1h8.8v8.8h-8.8zM817.6 489.9h8.8v8.8h-8.8zM826.4 489.9h8.8v8.8h-8.8zM879.2 489.9h8.8v8.8h-8.8zM888.0 489.9h8.8v8.8h-8.8zM896.8 489.9h8.8v8.8h-8.8zM905.6 489.9h8.8v8.8h-8.8zM914.4 489.9h8.8v8.8h-8.8zM835.2 498.7h8.8v8.8h-8.8zM861.6 498.7h8.8v8.8h-8.8zM870.4 498.7h8.8v8.8h-8.8zM879.2 498.7h8.8v8.8h-8.8zM888.0 498.7h8.8v8.8h-8.8zM896.8 498.7h8.8v8.8h-8.8zM905.6 498.7h8.8v8.8h-8.8zM914.4 498.7h8.8v8.8h-8.8z"/>
<path fill="#b4de76" d="M808.8 164.3h8.8v8.8h-8.8zM826.4 164.3h8.8v8.8h-8.8zM861.6 164.3h8.8v8.8h-8.8zM879.2 164.3h8.8v8.8h-8.8zM800.0 173.1h8.8v8.8h-8.8zM817.6 173.1h8.8v8.8h-8.8zM826.4 173.1h8.8v8.8h-8.8zM835.2 173.1h8.8v8.8h-8.8zM879.2 173.1h8.8v8.8h-8.8zM800.0 181.9h8.8v8.8h-8.8zM808.8 181.9h8.8v8.8h-8.8zM826.4 181.9h8.8v8.8h-8.8zM896.8 181.9h8.8v8.8h-8.8zM932.0 181.9h8.8v8.8h-8.8zM791.2 190.7h8.8v8.8h-8.8zM817.6 190.7h8.8v8.8h-8.8zM835.2 190.7h8.8v8.8h-8.8zM870.4 190.7h8.8v8.8h-8.8zM879.2 190.7h8.8v8.8h-8.8zM888.0 190.7h8.8v8.8h-8.8zM967.2 190.7h8.8v8.8h-8.8zM791.2 199.5h8.8v8.8h-8.8zM808.8 199.5h8.8v8.8h-8.8zM861.6 199.5h8.8v8.8h-8.8zM958.4 199.5h8.8v8.8h-8.8zM756.0 208.3h8.8v8.8h-8.8zM764.8 208.3h8.8v8.8h-8.8zM844.0 208.3h8.8v8.8h-8.8zM852.8 208.3h8.8v8.8h-8.8zM940.8 208.3h8.8v8.8h-8.8zM949.6 208.3h8.8v8.8h-8.8zM984.8 208.3h8.8v8.8h-8.8zM844.0 217.1h8.8v8.8h-8.8zM852.8 217.1h8.8v8.8h-8.8zM879.2 217.1h8.8v8.8h-8.8zM905.6 217.1h8.8v8.8h-8.8zM984.8 217.1h8.8v8.8h-8.8zM738.4 225.9h8.8v8.8h-8.8zM747.2 225.9h8.8v8.8h-8.8zM756.0 225.9h8.8v8.8h-8.8zM791.2 225.9h8.8v8.8h-8.8zM800.0 225.9h8.8v8.8h-8.8zM861.6 225.9h8.8v8.8h-8.8zM888.0 225.9h8.8v8.8h-8.8zM914.4 225.9h8.8v8.8h-8.8zM791.2 234.7h8.8v8.8h-8.8zM852.8 234.7h8.8v8.8h-8.8zM932.0 234.7h8.8v8.8h-8.8zM976.0 234.7h8.8v8.8h-8.8zM738.4 243.5h8.8v8.8h-8.8zM861.6 243.5h8.8v8.8h-8.8zM888.0 243.5h8.8v8.8h-8.8zM976.0 243.5h8.8v8.8h-8.8zM764.8 252.3h8.8v8.8h-8.8zM888.0 252.3h8.8v8.8h-8.8zM905.6 252.3h8.8v8.8h-8.8zM782.4 261.1h8.8v8.8h-8.8zM844.0 261.1h8.8v8.8h-8.8zM905.6 261.1h8.8v8.8h-8.8zM949.6 261.1h8.8v8.8h-8.8zM958.4 261.1h8.8v8.8h-8.8zM967.2 261.1h8.8v8.8h-8.8zM976.0 261.1h8.8v8.8h-8.8zM1011.2 261.1h8.8v8.8h-8.8zM1028.8 261.1h8.8v8.8h-8.8zM720.8 269.9h8.8v8.8h-8.8zM764.8 269.9h8.8v8.8h-8.8zM844.0 269.9h8.8v8.8h-8.8zM879.2 269.9h8.8v8.8h-8.8zM949.6 269.9h8.8v8.8h-8.8zM1011.2 269.9h8.8v8.8h-8.8zM1020.0 269.9h8.8v8.8h-8.8zM1028.8 269.9h8.8v8.8h-8.8zM756.0 278.7h8.8v8.8h-8.8zM782.4 278.7h8.8v8.8h-8.8zM870.4 278.7h8.8v8.8h-8.8zM888.0 278.7h8.8v8.8h-8.8zM896.8 278.7h8.8v8.8h-8.8zM932.0 278.7h8.8v8.8h-8.8zM958.4 278.7h8.8v8.8h-8.8zM1011.2 278.7h8.8v8.8h-8.8zM1037.6 278.7h8.8v8.8h-8.8zM712.0 287.5h8.8v8.8h-8.8zM729.6 287.5h8.8v8.8h-8.8zM773.6 287.5h8.8v8.8h-8.8zM800.0 287.5h8.8v8.8h-8.8zM808.8 287.5h8.8v8.8h-8.8zM844.0 287.5h8.8v8.8h-8.8zM861.6 287.5h8.8v8.8h-8.8zM870.4 287.5h8.8v8.8h-8.8zM879.2 287.5h8.8v8.8h-8.8zM888.0 287.5h8.8v8.8h-8.8zM896.8 287.5h8.8v8.8h-8.8zM976.0 287.5h8.8v8.8h-8.8zM984.8 287.5h8.8v8.8h-8.8zM993.6 287.5h8.8v8.8h-8.8zM703.2 296.3h8.8v8.8h-8.8zM712.0 296.3h8.8v8.8h-8.8zM720.8 296.3h8.8v8.8h-8.8zM756.0 296.3h8.8v8.8h-8.8zM764.8 296.3h8.8v8.8h-8.8zM773.6 296.3h8.8v8.8h-8.8zM800.0 296.3h8.8v8.8h-8.8zM808.8 296.3h8.8v8.8h-8.8zM861.6 296.3h8.8v8.8h-8.8zM879.2 296.3h8.8v8.8h-8.8zM888.0 296.3h8.8v8.8h-8.8zM896.8 296.3h8.8v8.8h-8.8zM914.4 296.3h8.8v8.8h-8.8zM940.8 296.3h8.8v8.8h-8.8zM791.2 305.1h8.8v8.8h-8.8zM861.6 305.1h8.8v8.8h-8.8zM888.0 305.1h8.8v8.8h-8.8zM905.6 305.1h8.8v8.8h-8.8zM914.4 305.1h8.8v8.8h-8.8zM932.0 305.1h8.8v8.8h-8.8zM1002.4 305.1h8.8v8.8h-8.8zM1020.0 305.1h8.8v8.8h-8.8zM1028.8 305.1h8.8v8.8h-8.8zM773.6 313.9h8.8v8.8h-8.8zM1011.2 313.9h8.8v8.8h-8.8zM1028.8 313.9h8.8v8.8h-8.8zM703.2 322.7h8.8v8.8h-8.8zM773.6 322.7h8.8v8.8h-8.8zM808.8 322.7h8.8v8.8h-8.8zM817.6 322.7h8.8v8.8h-8.8zM861.6 322.7h8.8v8.8h-8.8zM896.8 322.7h8.8v8.8h-8.8zM958.4 322.7h8.8v8.8h-8.8zM976.0 322.7h8.8v8.8h-8.8zM1037.6 322.7h8.8v8.8h-8.8zM694.4 331.5h8.8v8.8h-8.8zM808.8 331.5h8.8v8.8h-8.8zM844.0 331.5h8.8v8.8h-8.8zM852.8 331.5h8.8v8.8h-8.8zM888.0 331.5h8.8v8.8h-8.8zM976.0 331.5h8.8v8.8h-8.8zM993.6 331.5h8.8v8.8h-8.8zM738.4 340.3h8.8v8.8h-8.8zM791.2 340.3h8.8v8.8h-8.8zM800.0 340.3h8.8v8.8h-8.8zM817.6 340.3h8.8v8.8h-8.8zM852.8 340.3h8.8v8.8h-8.8zM896.8 340.3h8.8v8.8h-8.8zM932.0 340.3h8.8v8.8h-8.8zM967.2 340.3h8.8v8.8h-8.8zM694.4 349.1h8.8v8.8h-8.8zM764.8 349.1h8.8v8.8h-8.8zM773.6 349.1h8.8v8.8h-8.8zM808.8 349.1h8.8v8.8h-8.8zM852.8 349.1h8.8v8.8h-8.8zM888.0 349.1h8.8v8.8h-8.8zM949.6 349.1h8.8v8.8h-8.8zM984.8 349.1h8.8v8.8h-8.8zM993.6 349.1h8.8v8.8h-8.8zM1011.2 349.1h8.8v8.8h-8.8zM1028.8 349.1h8.8v8.8h-8.8zM773.6 357.9h8.8v8.8h-8.8zM844.0 357.9h8.8v8.8h-8.8zM896.8 357.9h8.8v8.8h-8.8zM905.6 357.9h8.8v8.8h-8.8zM976.0 357.9h8.8v8.8h-8.8zM984.8 357.9h8.8v8.8h-8.8zM993.6 357.9h8.8v8.8h-8.8zM729.6 366.7h8.8v8.8h-8.8zM764.8 366.7h8.8v8.8h-8.8zM844.0 366.7h8.8v8.8h-8.8zM879.2 366.7h8.8v8.8h-8.8zM905.6 366.7h8.8v8.8h-8.8zM914.4 366.7h8.8v8.8h-8.8zM923.2 366.7h8.8v8.8h-8.8zM940.8 366.7h8.8v8.8h-8.8zM949.6 366.7h8.8v8.8h-8.8zM993.6 366.7h8.8v8.8h-8.8zM1011.2 366.7h8.8v8.8h-8.8zM1037.6 366.7h8.8v8.8h-8.8zM764.8 375.5h8.8v8.8h-8.8zM782.4 375.5h8.8v8.8h-8.8zM835.2 375.5h8.8v8.8h-8.8zM870.4 375.5h8.8v8.8h-8.8zM879.2 375.5h8.8v8.8h-8.8zM896.8 375.5h8.8v8.8h-8.8zM949.6 375.5h8.8v8.8h-8.8zM958.4 375.5h8.8v8.8h-8.8zM993.6 375.5h8.8v8.8h-8.8zM1028.8 375.5h8.8v8.8h-8.8zM764.8 384.3h8.8v8.8h-8.8zM782.4 384.3h8.8v8.8h-8.8zM835.2 384.3h8.8v8.8h-8.8zM852.8 384.3h8.8v8.8h-8.8zM870.4 384.3h8.8v8.8h-8.8zM879.2 384.3h8.8v8.8h-8.8zM976.0 384.3h8.8v8.8h-8.8zM1011.2 384.3h8.8v8.8h-8.8zM1020.0 384.3h8.8v8.8h-8.8zM1037.6 384.3h8.8v8.8h-8.8zM747.2 393.1h8.8v8.8h-8.8zM764.8 393.1h8.8v8.8h-8.8zM808.8 393.1h8.8v8.8h-8.8zM844.0 393.1h8.8v8.8h-8.8zM888.0 393.1h8.8v8.8h-8.8zM914.4 393.1h8.8v8.8h-8.8zM984.8 393.1h8.8v8.8h-8.8zM747.2 401.9h8.8v8.8h-8.8zM773.6 401.9h8.8v8.8h-8.8zM835.2 401.9h8.8v8.8h-8.8zM844.0 401.9h8.8v8.8h-8.8zM861.6 401.9h8.8v8.8h-8.8zM870.4 401.9h8.8v8.8h-8.8zM888.0 401.9h8.8v8.8h-8.8zM967.2 401.9h8.8v8.8h-8.8zM1011.2 401.9h8.8v8.8h-8.8zM1020.0 401.9h8.8v8.8h-8.8zM729.6 410.7h8.8v8.8h-8.8zM738.4 410.7h8.8v8.8h-8.8zM747.2 410.7h8.8v8.8h-8.8zM861.6 410.7h8.8v8.8h-8.8zM879.2 410.7h8.8v8.8h-8.8zM958.4 410.7h8.8v8.8h-8.8zM984.8 410.7h8.8v8.8h-8.8zM1011.2 410.7h8.8v8.8h-8.8zM870.4 419.5h8.8v8.8h-8.8zM879.2 419.5h8.8v8.8h-8.8zM888.0 419.5h8.8v8.8h-8.8zM940.8 419.5h8.8v8.8h-8.8zM949.6 419.5h8.8v8.8h-8.8zM958.4 419.5h8.8v8.8h-8.8zM984.8 419.5h8.8v8.8h-8.8zM764.8 428.3h8.8v8.8h-8.8zM773.6 428.3h8.8v8.8h-8.8zM791.2 428.3h8.8v8.8h-8.8zM844.0 428.3h8.8v8.8h-8.8zM967.2 428.3h8.8v8.8h-8.8zM756.0 437.1h8.8v8.8h-8.8zM800.0 437.1h8.8v8.8h-8.8zM808.8 437.1h8.8v8.8h-8.8zM844.0 437.1h8.8v8.8h-8.8zM905.6 437.1h8.8v8.8h-8.8zM923.2 437.1h8.8v8.8h-8.8zM940.8 437.1h8.8v8.8h-8.8zM967.2 437.1h8.8v8.8h-8.8zM844.0 445.9h8.8v8.8h-8.8zM949.6 445.9h8.8v8.8h-8.8zM958.4 445.9h8.8v8.8h-8.8zM764.8 454.7h8.8v8.8h-8.8zM844.0 454.7h8.8v8.8h-8.8zM835.2 463.5h8.8v8.8h-8.8zM870.4 463.5h8.8v8.8h-8.8zM879.2 463.5h8.8v8.8h-8.8zM782.4 472.3h8.8v8.8h-8.8zM800.0 472.3h8.8v8.8h-8.8zM808.8 472.3h8.8v8.8h-8.8zM817.6 472.3h8.8v8.8h-8.8zM852.8 472.3h8.8v8.8h-8.8zM888.0 472.3h8.8v8.8h-8.8zM967.2 472.3h8.8v8.8h-8.8zM861.6 481.1h8.8v8.8h-8.8zM870.4 481.1h8.8v8.8h-8.8zM808.8 489.9h8.8v8.8h-8.8zM835.2 489.9h8.8v8.8h-8.8zM844.0 489.9h8.8v8.8h-8.8zM852.8 489.9h8.8v8.8h-8.8zM861.6 489.9h8.8v8.8h-8.8zM870.4 489.9h8.8v8.8h-8.8zM852.8 498.7h8.8v8.8h-8.8z"/>
<path fill="#ecd952" d="M817.6 164.3h8.8v8.8h-8.8zM835.2 164.3h8.8v8.8h-8.8zM870.4 164.3h8.8v8.8h-8.8zM888.0 164.3h8.8v8.8h-8.8zM896.8 164.3h8.8v8.8h-8.8zM905.6 164.3h8.8v8.8h-8.8zM923.2 164.3h8.8v8.8h-8.8zM932.0 164.3h8.8v8.8h-8.8zM808.8 173.1h8.8v8.8h-8.8zM861.6 173.1h8.8v8.8h-8.8zM870.4 173.1h8.8v8.8h-8.8zM888.0 173.1h8.8v8.8h-8.8zM896.8 173.1h8.8v8.8h-8.8zM905.6 173.1h8.8v8.8h-8.8zM923.2 173.1h8.8v8.8h-8.8zM932.0 173.1h8.8v8.8h-8.8zM844.0 181.9h8.8v8.8h-8.8zM879.2 181.9h8.8v8.8h-8.8zM905.6 181.9h8.8v8.8h-8.8zM940.8 181.9h8.8v8.8h-8.8zM958.4 181.9h8.8v8.8h-8.8zM773.6 190.7h8.8v8.8h-8.8zM808.8 190.7h8.8v8.8h-8.8zM826.4 190.7h8.8v8.8h-8.8zM923.2 190.7h8.8v8.8h-8.8zM932.0 190.7h8.8v8.8h-8.8zM949.6 190.7h8.8v8.8h-8.8zM958.4 190.7h8.8v8.8h-8.8zM817.6 199.5h8.8v8.8h-8.8zM826.4 199.5h8.8v8.8h-8.8zM870.4 199.5h8.8v8.8h-8.8zM888.0 199.5h8.8v8.8h-8.8zM896.8 199.5h8.8v8.8h-8.8zM905.6 199.5h8.8v8.8h-8.8zM932.0 199.5h8.8v8.8h-8.8zM940.8 199.5h8.8v8.8h-8.8zM967.2 199.5h8.8v8.8h-8.8zM976.0 199.5h8.8v8.8h-8.8zM870.4 208.3h8.8v8.8h-8.8zM888.0 208.3h8.8v8.8h-8.8zM914.4 208.3h8.8v8.8h-8.8zM747.2 217.1h8.8v8.8h-8.8zM756.0 217.1h8.8v8.8h-8.8zM764.8 217.1h8.8v8.8h-8.8zM861.6 217.1h8.8v8.8h-8.8zM870.4 217.1h8.8v8.8h-8.8zM896.8 217.1h8.8v8.8h-8.8zM914.4 217.1h8.8v8.8h-8.8zM923.2 217.1h8.8v8.8h-8.8zM932.0 217.1h8.8v8.8h-8.8zM940.8 217.1h8.8v8.8h-8.8zM967.2 217.1h8.8v8.8h-8.8zM764.8 225.9h8.8v8.8h-8.8zM773.6 225.9h8.8v8.8h-8.8zM870.4 225.9h8.8v8.8h-8.8zM923.2 225.9h8.8v8.8h-8.8zM932.0 225.9h8.8v8.8h-8.8zM984.8 225.9h8.8v8.8h-8.8zM1002.4 225.9h8.8v8.8h-8.8zM773.6 234.7h8.8v8.8h-8.8zM870.4 234.7h8.8v8.8h-8.8zM984.8 234.7h8.8v8.8h-8.8zM993.6 234.7h8.8v8.8h-8.8zM1002.4 234.7h8.8v8.8h-8.8zM879.2 243.5h8.8v8.8h-8.8zM932.0 243.5h8.8v8.8h-8.8zM949.6 243.5h8.8v8.8h-8.8zM896.8 252.3h8.8v8.8h-8.8zM976.0 252.3h8.8v8.8h-8.8zM747.2 261.1h8.8v8.8h-8.8zM773.6 261.1h8.8v8.8h-8.8zM896.8 261.1h8.8v8.8h-8.8zM932.0 261.1h8.8v8.8h-8.8zM940.8 261.1h8.8v8.8h-8.8zM984.8 261.1h8.8v8.8h-8.8zM993.6 261.1h8.8v8.8h-8.8zM1020.0 261.1h8.8v8.8h-8.8zM729.6 269.9h8.8v8.8h-8.8zM888.0 269.9h8.8v8.8h-8.8zM993.6 269.9h8.8v8.8h-8.8zM712.0 278.7h8.8v8.8h-8.8zM729.6 278.7h8.8v8.8h-8.8zM773.6 278.7h8.8v8.8h-8.8zM791.2 278.7h8.8v8.8h-8.8zM923.2 278.7h8.8v8.8h-8.8zM1020.0 278.7h8.8v8.8h-8.8zM756.0 287.5h8.8v8.8h-8.8zM764.8 287.5h8.8v8.8h-8.8zM905.6 287.5h8.8v8.8h-8.8zM932.0 287.5h8.8v8.8h-8.8zM940.8 287.5h8.8v8.8h-8.8zM1002.4 287.5h8.8v8.8h-8.8zM852.8 296.3h8.8v8.8h-8.8zM870.4 296.3h8.8v8.8h-8.8zM923.2 296.3h8.8v8.8h-8.8zM949.6 296.3h8.8v8.8h-8.8zM967.2 296.3h8.8v8.8h-8.8zM984.8 296.3h8.8v8.8h-8.8zM993.6 296.3h8.8v8.8h-8.8zM1037.6 296.3h8.8v8.8h-8.8zM773.6 305.1h8.8v8.8h-8.8zM870.4 305.1h8.8v8.8h-8.8zM896.8 305.1h8.8v8.8h-8.8zM923.2 305.1h8.8v8.8h-8.8zM993.6 305.1h8.8v8.8h-8.8zM1011.2 305.1h8.8v8.8h-8.8zM1037.6 305.1h8.8v8.8h-8.8zM808.8 313.9h8.8v8.8h-8.8zM967.2 313.9h8.8v8.8h-8.8zM1002.4 313.9h8.8v8.8h-8.8zM1020.0 313.9h8.8v8.8h-8.8zM932.0 322.7h8.8v8.8h-8.8zM993.6 322.7h8.8v8.8h-8.8zM1011.2 322.7h8.8v8.8h-8.8zM1028.8 322.7h8.8v8.8h-8.8zM896.8 331.5h8.8v8.8h-8.8zM923.2 331.5h8.8v8.8h-8.8zM932.0 331.5h8.8v8.8h-8.8zM1002.4 331.5h8.8v8.8h-8.8zM1028.8 331.5h8.8v8.8h-8.8zM703.2 340.3h8.8v8.8h-8.8zM773.6 340.3h8.8v8.8h-8.8zM808.8 340.3h8.8v8.8h-8.8zM844.0 340.3h8.8v8.8h-8.8zM923.2 340.3h8.8v8.8h-8.8zM993.6 340.3h8.8v8.8h-8.8zM1037.6 340.3h8.8v8.8h-8.8zM703.2 349.1h8.8v8.8h-8.8zM844.0 349.1h8.8v8.8h-8.8zM896.8 349.1h8.8v8.8h-8.8zM932.0 349.1h8.8v8.8h-8.8zM967.2 349.1h8.8v8.8h-8.8zM1002.4 349.1h8.8v8.8h-8.8zM1020.0 349.1h8.8v8.8h-8.8zM861.6 357.9h8.8v8.8h-8.8zM870.4 357.9h8.8v8.8h-8.8zM923.2 357.9h8.8v8.8h-8.8zM940.8 357.9h8.8v8.8h-8.8zM958.4 357.9h8.8v8.8h-8.8zM1002.4 357.9h8.8v8.8h-8.8zM1011.2 357.9h8.8v8.8h-8.8zM1028.8 357.9h8.8v8.8h-8.8zM932.0 366.7h8.8v8.8h-8.8zM1002.4 366.7h8.8v8.8h-8.8zM844.0 375.5h8.8v8.8h-8.8zM905.6 375.5h8.8v8.8h-8.8zM932.0 375.5h8.8v8.8h-8.8zM1002.4 375.5h8.8v8.8h-8.8zM800.0 384.3h8.8v8.8h-8.8zM888.0 384.3h8.8v8.8h-8.8zM905.6 384.3h8.8v8.8h-8.8zM914.4 384.3h8.8v8.8h-8.8zM932.0 384.3h8.8v8.8h-8.8zM984.8 384.3h8.8v8.8h-8.8zM1028.8 384.3h8.8v8.8h-8.8zM782.4 393.1h8.8v8.8h-8.8zM800.0 393.1h8.8v8.8h-8.8zM835.2 393.1h8.8v8.8h-8.8zM870.4 393.1h8.8v8.8h-8.8zM879.2 401.9h8.8v8.8h-8.8zM1002.4 401.9h8.8v8.8h-8.8zM773.6 410.7h8.8v8.8h-8.8zM932.0 410.7h8.8v8.8h-8.8zM940.8 410.7h8.8v8.8h-8.8zM967.2 410.7h8.8v8.8h-8.8zM1002.4 410.7h8.8v8.8h-8.8zM1020.0 410.7h8.8v8.8h-8.8zM976.0 419.5h8.8v8.8h-8.8zM1002.4 428.3h8.8v8.8h-8.8zM1011.2 428.3h8.8v8.8h-8.8zM747.2 437.1h8.8v8.8h-8.8zM1002.4 437.1h8.8v8.8h-8.8zM756.0 445.9h8.8v8.8h-8.8zM782.4 445.9h8.8v8.8h-8.8zM791.2 445.9h8.8v8.8h-8.8zM967.2 445.9h8.8v8.8h-8.8zM800.0 454.7h8.8v8.8h-8.8zM764.8 463.5h8.8v8.8h-8.8zM844.0 463.5h8.8v8.8h-8.8zM888.0 463.5h8.8v8.8h-8.8zM879.2 472.3h8.8v8.8h-8.8zM844.0 481.1h8.8v8.8h-8.8zM896.8 481.1h8.8v8.8h-8.8zM844.0 498.7h8.8v8.8h-8.8z"/>
<path fill="#eea756" d="M844.0 164.3h8.8v8.8h-8.8zM852.8 164.3h8.8v8.8h-8.8zM844.0 173.1h8.8v8.8h-8.8zM852.8 173.1h8.8v8.8h-8.8zM888.0 181.9h8.8v8.8h-8.8zM914.4 181.9h8.8v8.8h-8.8zM923.2 181.9h8.8v8.8h-8.8zM949.6 181.9h8.8v8.8h-8.8zM844.0 190.7h8.8v8.8h-8.8zM896.8 190.7h8.8v8.8h-8.8zM905.6 190.7h8.8v8.8h-8.8zM914.4 190.7h8.8v8.8h-8.8zM940.8 190.7h8.8v8.8h-8.8zM773.6 199.5h8.8v8.8h-8.8zM782.4 199.5h8.8v8.8h-8.8zM835.2 199.5h8.8v8.8h-8.8zM844.0 199.5h8.8v8.8h-8.8zM852.8 199.5h8.8v8.8h-8.8zM879.2 199.5h8.8v8.8h-8.8zM914.4 199.5h8.8v8.8h-8.8zM923.2 199.5h8.8v8.8h-8.8zM949.6 199.5h8.8v8.8h-8.8zM773.6 208.3h8.8v8.8h-8.8zM782.4 208.3h8.8v8.8h-8.8zM923.2 208.3h8.8v8.8h-8.8zM967.2 208.3h8.8v8.8h-8.8zM976.0 208.3h8.8v8.8h-8.8zM773.6 217.1h8.8v8.8h-8.8zM782.4 217.1h8.8v8.8h-8.8zM976.0 217.1h8.8v8.8h-8.8zM958.4 225.9h8.8v8.8h-8.8zM967.2 225.9h8.8v8.8h-8.8zM976.0 225.9h8.8v8.8h-8.8zM958.4 234.7h8.8v8.8h-8.8zM967.2 234.7h8.8v8.8h-8.8zM773.6 243.5h8.8v8.8h-8.8zM870.4 243.5h8.8v8.8h-8.8zM923.2 243.5h8.8v8.8h-8.8zM984.8 243.5h8.8v8.8h-8.8zM993.6 243.5h8.8v8.8h-8.8zM1002.4 243.5h8.8v8.8h-8.8zM747.2 252.3h8.8v8.8h-8.8zM773.6 252.3h8.8v8.8h-8.8zM879.2 252.3h8.8v8.8h-8.8zM914.4 252.3h8.8v8.8h-8.8zM923.2 252.3h8.8v8.8h-8.8zM984.8 252.3h8.8v8.8h-8.8zM993.6 252.3h8.8v8.8h-8.8zM1002.4 252.3h8.8v8.8h-8.8zM879.2 261.1h8.8v8.8h-8.8zM888.0 261.1h8.8v8.8h-8.8zM914.4 261.1h8.8v8.8h-8.8zM923.2 261.1h8.8v8.8h-8.8zM1002.4 261.1h8.8v8.8h-8.8zM773.6 269.9h8.8v8.8h-8.8zM896.8 269.9h8.8v8.8h-8.8zM905.6 269.9h8.8v8.8h-8.8zM967.2 269.9h8.8v8.8h-8.8zM976.0 269.9h8.8v8.8h-8.8zM984.8 269.9h8.8v8.8h-8.8zM1002.4 269.9h8.8v8.8h-8.8zM720.8 278.7h8.8v8.8h-8.8zM852.8 278.7h8.8v8.8h-8.8zM861.6 278.7h8.8v8.8h-8.8zM967.2 278.7h8.8v8.8h-8.8zM976.0 278.7h8.8v8.8h-8.8zM984.8 278.7h8.8v8.8h-8.8zM993.6 278.7h8.8v8.8h-8.8zM1002.4 278.7h8.8v8.8h-8.8zM720.8 287.5h8.8v8.8h-8.8zM852.8 287.5h8.8v8.8h-8.8zM923.2 287.5h8.8v8.8h-8.8zM949.6 287.5h8.8v8.8h-8.8zM958.4 287.5h8.8v8.8h-8.8zM905.6 296.3h8.8v8.8h-8.8zM932.0 296.3h8.8v8.8h-8.8zM1002.4 296.3h8.8v8.8h-8.8zM1011.2 296.3h8.8v8.8h-8.8zM1020.0 296.3h8.8v8.8h-8.8zM1028.8 296.3h8.8v8.8h-8.8zM976.0 313.9h8.8v8.8h-8.8zM984.8 313.9h8.8v8.8h-8.8zM993.6 313.9h8.8v8.8h-8.8zM923.2 322.7h8.8v8.8h-8.8zM1002.4 322.7h8.8v8.8h-8.8zM1020.0 322.7h8.8v8.8h-8.8zM773.6 331.5h8.8v8.8h-8.8zM1020.0 331.5h8.8v8.8h-8.8zM1002.4 340.3h8.8v8.8h-8.8zM1011.2 340.3h8.8v8.8h-8.8zM1020.0 340.3h8.8v8.8h-8.8zM1028.8 340.3h8.8v8.8h-8.8zM861.6 349.1h8.8v8.8h-8.8zM923.2 349.1h8.8v8.8h-8.8zM976.0 349.1h8.8v8.8h-8.8zM932.0 357.9h8.8v8.8h-8.8zM967.2 357.9h8.8v8.8h-8.8zM1020.0 357.9h8.8v8.8h-8.8zM773.6 366.7h8.8v8.8h-8.8zM1020.0 366.7h8.8v8.8h-8.8zM1028.8 366.7h8.8v8.8h-8.8zM773.6 375.5h8.8v8.8h-8.8zM914.4 375.5h8.8v8.8h-8.8zM923.2 375.5h8.8v8.8h-8.8zM773.6 384.3h8.8v8.8h-8.8zM844.0 384.3h8.8v8.8h-8.8zM896.8 384.3h8.8v8.8h-8.8zM923.2 384.3h8.8v8.8h-8.8zM773.6 393.1h8.8v8.8h-8.8zM923.2 393.1h8.8v8.8h-8.8zM923.2 401.9h8.8v8.8h-8.8zM923.2 410.7h8.8v8.8h-8.8zM923.2 419.5h8.8v8.8h-8.8zM1002.4 419.5h8.8v8.8h-8.8zM932.0 428.3h8.8v8.8h-8.8zM773.6 445.9h8.8v8.8h-8.8zM773.6 454.7h8.8v8.8h-8.8zM782.4 454.7h8.8v8.8h-8.8zM791.2 454.7h8.8v8.8h-8.8zM773.6 463.5h8.8v8.8h-8.8zM844.0 472.3h8.8v8.8h-8.8zM896.8 472.3h8.8v8.8h-8.8z"/>
<path fill="url(#gp)" d="M914.4 164.3h8.8v8.8h-8.8zM914.4 173.1h8.8v8.8h-8.8zM940.8 173.1h8.8v8.8h-8.8zM782.4 181.9h8.8v8.8h-8.8zM791.2 181.9h8.8v8.8h-8.8zM817.6 181.9h8.8v8.8h-8.8zM835.2 181.9h8.8v8.8h-8.8zM852.8 181.9h8.8v8.8h-8.8zM861.6 181.9h8.8v8.8h-8.8zM870.4 181.9h8.8v8.8h-8.8zM782.4 190.7h8.8v8.8h-8.8zM800.0 190.7h8.8v8.8h-8.8zM852.8 190.7h8.8v8.8h-8.8zM861.6 190.7h8.8v8.8h-8.8zM764.8 199.5h8.8v8.8h-8.8zM800.0 199.5h8.8v8.8h-8.8zM984.8 199.5h8.8v8.8h-8.8zM791.2 208.3h8.8v8.8h-8.8zM800.0 208.3h8.8v8.8h-8.8zM808.8 208.3h8.8v8.8h-8.8zM817.6 208.3h8.8v8.8h-8.8zM826.4 208.3h8.8v8.8h-8.8zM835.2 208.3h8.8v8.8h-8.8zM861.6 208.3h8.8v8.8h-8.8zM879.2 208.3h8.8v8.8h-8.8zM896.8 208.3h8.8v8.8h-8.8zM905.6 208.3h8.8v8.8h-8.8zM932.0 208.3h8.8v8.8h-8.8zM958.4 208.3h8.8v8.8h-8.8zM993.6 208.3h8.8v8.8h-8.8zM791.2 217.1h8.8v8.8h-8.8zM800.0 217.1h8.8v8.8h-8.8zM808.8 217.1h8.8v8.8h-8.8zM835.2 217.1h8.8v8.8h-8.8zM888.0 217.1h8.8v8.8h-8.8zM949.6 217.1h8.8v8.8h-8.8zM958.4 217.1h8.8v8.8h-8.8zM993.6 217.1h8.8v8.8h-8.8zM1002.4 217.1h8.8v8.8h-8.8zM782.4 225.9h8.8v8.8h-8.8zM808.8 225.9h8.8v8.8h-8.8zM844.0 225.9h8.8v8.8h-8.8zM852.8 225.9h8.8v8.8h-8.8zM879.2 225.9h8.8v8.8h-8.8zM896.8 225.9h8.8v8.8h-8.8zM905.6 225.9h8.8v8.8h-8.8zM940.8 225.9h8.8v8.8h-8.8zM949.6 225.9h8.8v8.8h-8.8zM993.6 225.9h8.8v8.8h-8.8zM729.6 234.7h8.8v8.8h-8.8zM738.4 234.7h8.8v8.8h-8.8zM747.2 234.7h8.8v8.8h-8.8zM756.0 234.7h8.8v8.8h-8.8zM764.8 234.7h8.8v8.8h-8.8zM782.4 234.7h8.8v8.8h-8.8zM800.0 234.7h8.8v8.8h-8.8zM808.8 234.7h8.8v8.8h-8.8zM844.0 234.7h8.8v8.8h-8.8zM861.6 234.7h8.8v8.8h-8.8zM879.2 234.7h8.8v8.8h-8.8zM888.0 234.7h8.8v8.8h-8.8zM896.8 234.7h8.8v8.8h-8.8zM905.6 234.7h8.8v8.8h-8.8zM914.4 234.7h8.8v8.8h-8.8zM923.2 234.7h8.8v8.8h-8.8zM940.8 234.7h8.8v8.8h-8.8zM949.6 234.7h8.8v8.8h-8.8zM1011.2 234.7h8.8v8.8h-8.8zM720.8 243.5h8.8v8.8h-8.8zM729.6 243.5h8.8v8.8h-8.8zM747.2 243.5h8.8v8.8h-8.8zM756.0 243.5h8.8v8.8h-8.8zM764.8 243.5h8.8v8.8h-8.8zM782.4 243.5h8.8v8.8h-8.8zM791.2 243.5h8.8v8.8h-8.8zM800.0 243.5h8.8v8.8h-8.8zM844.0 243.5h8.8v8.8h-8.8zM852.8 243.5h8.8v8.8h-8.8zM896.8 243.5h8.8v8.8h-8.8zM905.6 243.5h8.8v8.8h-8.8zM914.4 243.5h8.8v8.8h-8.8zM940.8 243.5h8.8v8.8h-8.8zM958.4 243.5h8.8v8.8h-8.8zM967.2 243.5h8.8v8.8h-8.8zM1011.2 243.5h8.8v8.8h-8.8zM1020.0 243.5h8.8v8.8h-8.8zM720.8 252.3h8.8v8.8h-8.8zM729.6 252.3h8.8v8.8h-8.8zM738.4 252.3h8.8v8.8h-8.8zM756.0 252.3h8.8v8.8h-8.8zM782.4 252.3h8.8v8.8h-8.8zM791.2 252.3h8.8v8.8h-8.8zM800.0 252.3h8.8v8.8h-8.8zM852.8 252.3h8.8v8.8h-8.8zM861.6 252.3h8.8v8.8h-8.8zM870.4 252.3h8.8v8.8h-8.8zM932.0 252.3h8.8v8.8h-8.8zM940.8 252.3h8.8v8.8h-8.8zM949.6 252.3h8.8v8.8h-8.8zM958.4 252.3h8.8v8.8h-8.8zM967.2 252.3h8.8v8.8h-8.8zM1011.2 252.3h8.8v8.8h-8.8zM1020.0 252.3h8.8v8.8h-8.8zM712.0 261.1h8.8v8.8h-8.8zM720.8 261.1h8.8v8.8h-8.8zM729.6 261.1h8.8v8.8h-8.8zM738.4 261.1h8.8v8.8h-8.8zM756.0 261.1h8.8v8.8h-8.8zM764.8 261.1h8.8v8.8h-8.8zM791.2 261.1h8.8v8.8h-8.8zM800.0 261.1h8.8v8.8h-8.8zM852.8 261.1h8.8v8.8h-8.8zM870.4 261.1h8.8v8.8h-8.8zM712.0 269.9h8.8v8.8h-8.8zM738.4 269.9h8.8v8.8h-8.8zM747.2 269.9h8.8v8.8h-8.8zM756.0 269.9h8.8v8.8h-8.8zM782.4 269.9h8.8v8.8h-8.8zM791.2 269.9h8.8v8.8h-8.8zM800.0 269.9h8.8v8.8h-8.8zM852.8 269.9h8.8v8.8h-8.8zM861.6 269.9h8.8v8.8h-8.8zM870.4 269.9h8.8v8.8h-8.8zM914.4 269.9h8.8v8.8h-8.8zM923.2 269.9h8.8v8.8h-8.8zM932.0 269.9h8.8v8.8h-8.8zM940.8 269.9h8.8v8.8h-8.8zM958.4 269.9h8.8v8.8h-8.8zM703.2 278.7h8.8v8.8h-8.8zM738.4 278.7h8.8v8.8h-8.8zM747.2 278.7h8.8v8.8h-8.8zM764.8 278.7h8.8v8.8h-8.8zM800.0 278.7h8.8v8.8h-8.8zM808.8 278.7h8.8v8.8h-8.8zM835.2 278.7h8.8v8.8h-8.8zM844.0 278.7h8.8v8.8h-8.8zM879.2 278.7h8.8v8.8h-8.8zM905.6 278.7h8.8v8.8h-8.8zM914.4 278.7h8.8v8.8h-8.8zM940.8 278.7h8.8v8.8h-8.8zM949.6 278.7h8.8v8.8h-8.8zM1028.8 278.7h8.8v8.8h-8.8zM703.2 287.5h8.8v8.8h-8.8zM738.4 287.5h8.8v8.8h-8.8zM747.2 287.5h8.8v8.8h-8.8zM782.4 287.5h8.8v8.8h-8.8zM791.2 287.5h8.8v8.8h-8.8zM835.2 287.5h8.8v8.8h-8.8zM914.4 287.5h8.8v8.8h-8.8zM967.2 287.5h8.8v8.8h-8.8zM1011.2 287.5h8.8v8.8h-8.8zM1020.0 287.5h8.8v8.8h-8.8zM1028.8 287.5h8.8v8.8h-8.8zM1037.6 287.5h8.8v8.8h-8.8zM694.4 296.3h8.8v8.8h-8.8zM729.6 296.3h8.8v8.8h-8.8zM747.2 296.3h8.8v8.8h-8.8zM782.4 296.3h8.8v8.8h-8.8zM791.2 296.3h8.8v8.8h-8.8zM817.6 296.3h8.8v8.8h-8.8zM835.2 296.3h8.8v8.8h-8.8zM844.0 296.3h8.8v8.8h-8.8zM958.4 296.3h8.8v8.8h-8.8zM976.0 296.3h8.8v8.8h-8.8zM694.4 305.1h8.8v8.8h-8.8zM703.2 305.1h8.8v8.8h-8.8zM712.0 305.1h8.8v8.8h-8.8zM720.8 305.1h8.8v8.8h-8.8zM729.6 305.1h8.8v8.8h-8.8zM738.4 305.1h8.8v8.8h-8.8zM782.4 305.1h8.8v8.8h-8.8zM800.0 305.1h8.8v8.8h-8.8zM808.8 305.1h8.8v8.8h-8.8zM817.6 305.1h8.8v8.8h-8.8zM844.0 305.1h8.8v8.8h-8.8zM852.8 305.1h8.8v8.8h-8.8zM879.2 305.1h8.8v8.8h-8.8zM940.8 305.1h8.8v8.8h-8.8zM949.6 305.1h8.8v8.8h-8.8zM958.4 305.1h8.8v8.8h-8.8zM967.2 305.1h8.8v8.8h-8.8zM976.0 305.1h8.8v8.8h-8.8zM984.8 305.1h8.8v8.8h-8.8zM694.4 313.9h8.8v8.8h-8.8zM703.2 313.9h8.8v8.8h-8.8zM712.0 313.9h8.8v8.8h-8.8zM720.8 313.9h8.8v8.8h-8.8zM729.6 313.9h8.8v8.8h-8.8zM764.8 313.9h8.8v8.8h-8.8zM782.4 313.9h8.8v8.8h-8.8zM791.2 313.9h8.8v8.8h-8.8zM800.0 313.9h8.8v8.8h-8.8zM817.6 313.9h8.8v8.8h-8.8zM826.4 313.9h8.8v8.8h-8.8zM844.0 313.9h8.8v8.8h-8.8zM852.8 313.9h8.8v8.8h-8.8zM861.6 313.9h8.8v8.8h-8.8zM870.4 313.9h8.8v8.8h-8.8zM879.2 313.9h8.8v8.8h-8.8zM888.0 313.9h8.8v8.8h-8.8zM896.8 313.9h8.8v8.8h-8.8zM905.6 313.9h8.8v8.8h-8.8zM914.4 313.9h8.8v8.8h-8.8zM923.2 313.9h8.8v8.8h-8.8zM932.0 313.9h8.8v8.8h-8.8zM940.8 313.9h8.8v8.8h-8.8zM949.6 313.9h8.8v8.8h-8.8zM958.4 313.9h8.8v8.8h-8.8zM1037.6 313.9h8.8v8.8h-8.8zM1046.4 313.9h8.8v8.8h-8.8zM694.4 322.7h8.8v8.8h-8.8zM712.0 322.7h8.8v8.8h-8.8zM720.8 322.7h8.8v8.8h-8.8zM729.6 322.7h8.8v8.8h-8.8zM756.0 322.7h8.8v8.8h-8.8zM764.8 322.7h8.8v8.8h-8.8zM782.4 322.7h8.8v8.8h-8.8zM791.2 322.7h8.8v8.8h-8.8zM800.0 322.7h8.8v8.8h-8.8zM826.4 322.7h8.8v8.8h-8.8zM835.2 322.7h8.8v8.8h-8.8zM844.0 322.7h8.8v8.8h-8.8zM852.8 322.7h8.8v8.8h-8.8zM870.4 322.7h8.8v8.8h-8.8zM879.2 322.7h8.8v8.8h-8.8zM888.0 322.7h8.8v8.8h-8.8zM905.6 322.7h8.8v8.8h-8.8zM914.4 322.7h8.8v8.8h-8.8zM940.8 322.7h8.8v8.8h-8.8zM949.6 322.7h8.8v8.8h-8.8zM967.2 322.7h8.8v8.8h-8.8zM984.8 322.7h8.8v8.8h-8.8zM1046.4 322.7h8.8v8.8h-8.8zM703.2 331.5h8.8v8.8h-8.8zM712.0 331.5h8.8v8.8h-8.8zM720.8 331.5h8.8v8.8h-8.8zM729.6 331.5h8.8v8.8h-8.8zM738.4 331.5h8.8v8.8h-8.8zM747.2 331.5h8.8v8.8h-8.8zM756.0 331.5h8.8v8.8h-8.8zM764.8 331.5h8.8v8.8h-8.8zM782.4 331.5h8.8v8.8h-8.8zM791.2 331.5h8.8v8.8h-8.8zM800.0 331.5h8.8v8.8h-8.8zM817.6 331.5h8.8v8.8h-8.8zM826.4 331.5h8.8v8.8h-8.8zM835.2 331.5h8.8v8.8h-8.8zM861.6 331.5h8.8v8.8h-8.8zM870.4 331.5h8.8v8.8h-8.8zM879.2 331.5h8.8v8.8h-8.8zM905.6 331.5h8.8v8.8h-8.8zM914.4 331.5h8.8v8.8h-8.8zM940.8 331.5h8.8v8.8h-8.8zM949.6 331.5h8.8v8.8h-8.8zM958.4 331.5h8.8v8.8h-8.8zM967.2 331.5h8.8v8.8h-8.8zM984.8 331.5h8.8v8.8h-8.8zM1011.2 331.5h8.8v8.8h-8.8zM1037.6 331.5h8.8v8.8h-8.8zM1046.4 331.5h8.8v8.8h-8.8zM694.4 340.3h8.8v8.8h-8.8zM712.0 340.3h8.8v8.8h-8.8zM720.8 340.3h8.8v8.8h-8.8zM729.6 340.3h8.8v8.8h-8.8zM747.2 340.3h8.8v8.8h-8.8zM756.0 340.3h8.8v8.8h-8.8zM764.8 340.3h8.8v8.8h-8.8zM782.4 340.3h8.8v8.8h-8.8zM826.4 340.3h8.8v8.8h-8.8zM835.2 340.3h8.8v8.8h-8.8zM861.6 340.3h8.8v8.8h-8.8zM870.4 340.3h8.8v8.8h-8.8zM879.2 340.3h8.8v8.8h-8.8zM888.0 340.3h8.8v8.8h-8.8zM905.6 340.3h8.8v8.8h-8.8zM914.4 340.3h8.8v8.8h-8.8zM940.8 340.3h8.8v8.8h-8.8zM949.6 340.3h8.8v8.8h-8.8zM958.4 340.3h8.8v8.8h-8.8zM976.0 340.3h8.8v8.8h-8.8zM984.8 340.3h8.8v8.8h-8.8zM1046.4 340.3h8.8v8.8h-8.8zM712.0 349.1h8.8v8.8h-8.8zM720.8 349.1h8.8v8.8h-8.8zM729.6 349.1h8.8v8.8h-8.8zM738.4 349.1h8.8v8.8h-8.8zM747.2 349.1h8.8v8.8h-8.8zM756.0 349.1h8.8v8.8h-8.8zM782.4 349.1h8.8v8.8h-8.8zM791.2 349.1h8.8v8.8h-8.8zM800.0 349.1h8.8v8.8h-8.8zM817.6 349.1h8.8v8.8h-8.8zM826.4 349.1h8.8v8.8h-8.8zM835.2 349.1h8.8v8.8h-8.8zM870.4 349.1h8.8v8.8h-8.8zM879.2 349.1h8.8v8.8h-8.8zM905.6 349.1h8.8v8.8h-8.8zM914.4 349.1h8.8v8.8h-8.8zM940.8 349.1h8.8v8.8h-8.8zM958.4 349.1h8.8v8.8h-8.8zM1037.6 349.1h8.8v8.8h-8.8zM1046.4 349.1h8.8v8.8h-8.8zM694.4 357.9h8.8v8.8h-8.8zM703.2 357.9h8.8v8.8h-8.8zM712.0 357.9h8.8v8.8h-8.8zM720.8 357.9h8.8v8.8h-8.8zM729.6 357.9h8.8v8.8h-8.8zM738.4 357.9h8.8v8.8h-8.8zM747.2 357.9h8.8v8.8h-8.8zM756.0 357.9h8.8v8.8h-8.8zM764.8 357.9h8.8v8.8h-8.8zM782.4 357.9h8.8v8.8h-8.8zM791.2 357.9h8.8v8.8h-8.8zM800.0 357.9h8.8v8.8h-8.8zM808.8 357.9h8.8v8.8h-8.8zM817.6 357.9h8.8v8.8h-8.8zM826.4 357.9h8.8v8.8h-8.8zM835.2 357.9h8.8v8.8h-8.8zM852.8 357.9h8.8v8.8h-8.8zM879.2 357.9h8.8v8.8h-8.8zM888.0 357.9h8.8v8.8h-8.8zM914.4 357.9h8.8v8.8h-8.8zM949.6 357.9h8.8v8.8h-8.8zM1037.6 357.9h8.8v8.8h-8.8zM1046.4 357.9h8.8v8.8h-8.8zM720.8 366.7h8.8v8.8h-8.8zM738.4 366.7h8.8v8.8h-8.8zM747.2 366.7h8.8v8.8h-8.8zM756.0 366.7h8.8v8.8h-8.8zM782.4 366.7h8.8v8.8h-8.8zM791.2 366.7h8.8v8.8h-8.8zM800.0 366.7h8.8v8.8h-8.8zM808.8 366.7h8.8v8.8h-8.8zM817.6 366.7h8.8v8.8h-8.8zM826.4 366.7h8.8v8.8h-8.8zM835.2 366.7h8.8v8.8h-8.8zM852.8 366.7h8.8v8.8h-8.8zM861.6 366.7h8.8v8.8h-8.8zM870.4 366.7h8.8v8.8h-8.8zM888.0 366.7h8.8v8.8h-8.8zM896.8 366.7h8.8v8.8h-8.8zM958.4 366.7h8.8v8.8h-8.8zM967.2 366.7h8.8v8.8h-8.8zM976.0 366.7h8.8v8.8h-8.8zM984.8 366.7h8.8v8.8h-8.8zM720.8 375.5h8.8v8.8h-8.8zM729.6 375.5h8.8v8.8h-8.8zM738.4 375.5h8.8v8.8h-8.8zM747.2 375.5h8.8v8.8h-8.8zM756.0 375.5h8.8v8.8h-8.8zM791.2 375.5h8.8v8.8h-8.8zM800.0 375.5h8.8v8.8h-8.8zM808.8 375.5h8.8v8.8h-8.8zM817.6 375.5h8.8v8.8h-8.8zM826.4 375.5h8.8v8.8h-8.8zM852.8 375.5h8.8v8.8h-8.8zM861.6 375.5h8.8v8.8h-8.8zM888.0 375.5h8.8v8.8h-8.8zM940.8 375.5h8.8v8.8h-8.8zM967.2 375.5h8.8v8.8h-8.8zM976.0 375.5h8.8v8.8h-8.8zM984.8 375.5h8.8v8.8h-8.8zM1011.2 375.5h8.8v8.8h-8.8zM1020.0 375.5h8.8v8.8h-8.8zM1037.6 375.5h8.8v8.8h-8.8zM729.6 384.3h8.8v8.8h-8.8zM738.4 384.3h8.8v8.8h-8.8zM747.2 384.3h8.8v8.8h-8.8zM756.0 384.3h8.8v8.8h-8.8zM791.2 384.3h8.8v8.8h-8.8zM808.8 384.3h8.8v8.8h-8.8zM817.6 384.3h8.8v8.8h-8.8zM826.4 384.3h8.8v8.8h-8.8zM861.6 384.3h8.8v8.8h-8.8zM940.8 384.3h8.8v8.8h-8.8zM949.6 384.3h8.8v8.8h-8.8zM958.4 384.3h8.8v8.8h-8.8zM967.2 384.3h8.8v8.8h-8.8zM993.6 384.3h8.8v8.8h-8.8zM1002.4 384.3h8.8v8.8h-8.8zM729.6 393.1h8.8v8.8h-8.8zM738.4 393.1h8.8v8.8h-8.8zM756.0 393.1h8.8v8.8h-8.8zM791.2 393.1h8.8v8.8h-8.8zM826.4 393.1h8.8v8.8h-8.8zM852.8 393.1h8.8v8.8h-8.8zM861.6 393.1h8.8v8.8h-8.8zM879.2 393.1h8.8v8.8h-8.8zM896.8 393.1h8.8v8.8h-8.8zM905.6 393.1h8.8v8.8h-8.8zM932.0 393.1h8.8v8.8h-8.8zM940.8 393.1h8.8v8.8h-8.8zM949.6 393.1h8.8v8.8h-8.8zM958.4 393.1h8.8v8.8h-8.8zM967.2 393.1h8.8v8.8h-8.8zM976.0 393.1h8.8v8.8h-8.8zM993.6 393.1h8.8v8.8h-8.8zM1002.4 393.1h8.8v8.8h-8.8zM1011.2 393.1h8.8v8.8h-8.8zM1020.0 393.1h8.8v8.8h-8.8zM1028.8 393.1h8.8v8.8h-8.8zM712.0 401.9h8.8v8.8h-8.8zM720.8 401.9h8.8v8.8h-8.8zM729.6 401.9h8.8v8.8h-8.8zM738.4 401.9h8.8v8.8h-8.8zM756.0 401.9h8.8v8.8h-8.8zM764.8 401.9h8.8v8.8h-8.8zM782.4 401.9h8.8v8.8h-8.8zM808.8 401.9h8.8v8.8h-8.8zM826.4 401.9h8.8v8.8h-8.8zM852.8 401.9h8.8v8.8h-8.8zM896.8 401.9h8.8v8.8h-8.8zM905.6 401.9h8.8v8.8h-8.8zM914.4 401.9h8.8v8.8h-8.8zM932.0 401.9h8.8v8.8h-8.8zM940.8 401.9h8.8v8.8h-8.8zM949.6 401.9h8.8v8.8h-8.8zM958.4 401.9h8.8v8.8h-8.8zM976.0 401.9h8.8v8.8h-8.8zM984.8 401.9h8.8v8.8h-8.8zM993.6 401.9h8.8v8.8h-8.8zM1028.8 401.9h8.8v8.8h-8.8zM712.0 410.7h8.8v8.8h-8.8zM720.8 410.7h8.8v8.8h-8.8zM756.0 410.7h8.8v8.8h-8.8zM764.8 410.7h8.8v8.8h-8.8zM826.4 410.7h8.8v8.8h-8.8zM835.2 410.7h8.8v8.8h-8.8zM844.0 410.7h8.8v8.8h-8.8zM852.8 410.7h8.8v8.8h-8.8zM870.4 410.7h8.8v8.8h-8.8zM888.0 410.7h8.8v8.8h-8.8zM896.8 410.7h8.8v8.8h-8.8zM905.6 410.7h8.8v8.8h-8.8zM914.4 410.7h8.8v8.8h-8.8zM949.6 410.7h8.8v8.8h-8.8zM976.0 410.7h8.8v8.8h-8.8zM993.6 410.7h8.8v8.8h-8.8zM720.8 419.5h8.8v8.8h-8.8zM729.6 419.5h8.8v8.8h-8.8zM738.4 419.5h8.8v8.8h-8.8zM747.2 419.5h8.8v8.8h-8.8zM756.0 419.5h8.8v8.8h-8.8zM764.8 419.5h8.8v8.8h-8.8zM773.6 419.5h8.8v8.8h-8.8zM791.2 419.5h8.8v8.8h-8.8zM800.0 419.5h8.8v8.8h-8.8zM852.8 419.5h8.8v8.8h-8.8zM861.6 419.5h8.8v8.8h-8.8zM896.8 419.5h8.8v8.8h-8.8zM905.6 419.5h8.8v8.8h-8.8zM914.4 419.5h8.8v8.8h-8.8zM932.0 419.5h8.8v8.8h-8.8zM967.2 419.5h8.8v8.8h-8.8zM993.6 419.5h8.8v8.8h-8.8zM1011.2 419.5h8.8v8.8h-8.8zM1020.0 419.5h8.8v8.8h-8.8zM720.8 428.3h8.8v8.8h-8.8zM729.6 428.3h8.8v8.8h-8.8zM738.4 428.3h8.8v8.8h-8.8zM747.2 428.3h8.8v8.8h-8.8zM756.0 428.3h8.8v8.8h-8.8zM782.4 428.3h8.8v8.8h-8.8zM800.0 428.3h8.8v8.8h-8.8zM808.8 428.3h8.8v8.8h-8.8zM817.6 428.3h8.8v8.8h-8.8zM852.8 428.3h8.8v8.8h-8.8zM861.6 428.3h8.8v8.8h-8.8zM870.4 428.3h8.8v8.8h-8.8zM879.2 428.3h8.8v8.8h-8.8zM888.0 428.3h8.8v8.8h-8.8zM896.8 428.3h8.8v8.8h-8.8zM905.6 428.3h8.8v8.8h-8.8zM914.4 428.3h8.8v8.8h-8.8zM923.2 428.3h8.8v8.8h-8.8zM940.8 428.3h8.8v8.8h-8.8zM949.6 428.3h8.8v8.8h-8.8zM958.4 428.3h8.8v8.8h-8.8zM976.0 428.3h8.8v8.8h-8.8zM984.8 428.3h8.8v8.8h-8.8zM993.6 428.3h8.8v8.8h-8.8zM738.4 437.1h8.8v8.8h-8.8zM764.8 437.1h8.8v8.8h-8.8zM773.6 437.1h8.8v8.8h-8.8zM782.4 437.1h8.8v8.8h-8.8zM791.2 437.1h8.8v8.8h-8.8zM817.6 437.1h8.8v8.8h-8.8zM826.4 437.1h8.8v8.8h-8.8zM835.2 437.1h8.8v8.8h-8.8zM852.8 437.1h8.8v8.8h-8.8zM861.6 437.1h8.8v8.8h-8.8zM870.4 437.1h8.8v8.8h-8.8zM879.2 437.1h8.8v8.8h-8.8zM896.8 437.1h8.8v8.8h-8.8zM914.4 437.1h8.8v8.8h-8.8zM932.0 437.1h8.8v8.8h-8.8zM949.6 437.1h8.8v8.8h-8.8zM958.4 437.1h8.8v8.8h-8.8zM976.0 437.1h8.8v8.8h-8.8zM984.8 437.1h8.8v8.8h-8.8zM993.6 437.1h8.8v8.8h-8.8zM747.2 445.9h8.8v8.8h-8.8zM764.8 445.9h8.8v8.8h-8.8zM800.0 445.9h8.8v8.8h-8.8zM808.8 445.9h8.8v8.8h-8.8zM817.6 445.9h8.8v8.8h-8.8zM826.4 445.9h8.8v8.8h-8.8zM835.2 445.9h8.8v8.8h-8.8zM852.8 445.9h8.8v8.8h-8.8zM861.6 445.9h8.8v8.8h-8.8zM870.4 445.9h8.8v8.8h-8.8zM879.2 445.9h8.8v8.8h-8.8zM888.0 445.9h8.8v8.8h-8.8zM896.8 445.9h8.8v8.8h-8.8zM905.6 445.9h8.8v8.8h-8.8zM914.4 445.9h8.8v8.8h-8.8zM932.0 445.9h8.8v8.8h-8.8zM940.8 445.9h8.8v8.8h-8.8zM976.0 445.9h8.8v8.8h-8.8zM984.8 445.9h8.8v8.8h-8.8zM993.6 445.9h8.8v8.8h-8.8zM1002.4 445.9h8.8v8.8h-8.8zM756.0 454.7h8.8v8.8h-8.8zM808.8 454.7h8.8v8.8h-8.8zM817.6 454.7h8.8v8.8h-8.8zM826.4 454.7h8.8v8.8h-8.8zM835.2 454.7h8.8v8.8h-8.8zM852.8 454.7h8.8v8.8h-8.8zM861.6 454.7h8.8v8.8h-8.8zM870.4 454.7h8.8v8.8h-8.8zM879.2 454.7h8.8v8.8h-8.8zM888.0 454.7h8.8v8.8h-8.8zM896.8 454.7h8.8v8.8h-8.8zM905.6 454.7h8.8v8.8h-8.8zM914.4 454.7h8.8v8.8h-8.8zM940.8 454.7h8.8v8.8h-8.8zM949.6 454.7h8.8v8.8h-8.8zM958.4 454.7h8.8v8.8h-8.8zM967.2 454.7h8.8v8.8h-8.8zM976.0 454.7h8.8v8.8h-8.8zM984.8 454.7h8.8v8.8h-8.8zM993.6 454.7h8.8v8.8h-8.8zM782.4 463.5h8.8v8.8h-8.8zM791.2 463.5h8.8v8.8h-8.8zM800.0 463.5h8.8v8.8h-8.8zM808.8 463.5h8.8v8.8h-8.8zM817.6 463.5h8.8v8.8h-8.8zM826.4 463.5h8.8v8.8h-8.8zM852.8 463.5h8.8v8.8h-8.8zM861.6 463.5h8.8v8.8h-8.8zM896.8 463.5h8.8v8.8h-8.8zM905.6 463.5h8.8v8.8h-8.8zM914.4 463.5h8.8v8.8h-8.8zM958.4 463.5h8.8v8.8h-8.8zM967.2 463.5h8.8v8.8h-8.8zM976.0 463.5h8.8v8.8h-8.8zM984.8 463.5h8.8v8.8h-8.8zM773.6 472.3h8.8v8.8h-8.8zM791.2 472.3h8.8v8.8h-8.8zM826.4 472.3h8.8v8.8h-8.8zM835.2 472.3h8.8v8.8h-8.8zM861.6 472.3h8.8v8.8h-8.8zM870.4 472.3h8.8v8.8h-8.8zM905.6 472.3h8.8v8.8h-8.8zM914.4 472.3h8.8v8.8h-8.8zM958.4 472.3h8.8v8.8h-8.8zM782.4 481.1h8.8v8.8h-8.8zM791.2 481.1h8.8v8.8h-8.8zM800.0 481.1h8.8v8.8h-8.8zM808.8 481.1h8.8v8.8h-8.8zM817.6 481.1h8.8v8.8h-8.8zM826.4 481.1h8.8v8.8h-8.8zM835.2 481.1h8.8v8.8h-8.8zM852.8 481.1h8.8v8.8h-8.8zM879.2 481.1h8.8v8.8h-8.8zM888.0 481.1h8.8v8.8h-8.8zM905.6 481.1h8.8v8.8h-8.8zM958.4 481.1h8.8v8.8h-8.8zM817.6 489.9h8.8v8.8h-8.8zM826.4 489.9h8.8v8.8h-8.8zM879.2 489.9h8.8v8.8h-8.8zM888.0 489.9h8.8v8.8h-8.8zM896.8 489.9h8.8v8.8h-8.8zM905.6 489.9h8.8v8.8h-8.8zM914.4 489.9h8.8v8.8h-8.8zM835.2 498.7h8.8v8.8h-8.8zM861.6 498.7h8.8v8.8h-8.8zM870.4 498.7h8.8v8.8h-8.8zM879.2 498.7h8.8v8.8h-8.8zM888.0 498.7h8.8v8.8h-8.8zM896.8 498.7h8.8v8.8h-8.8zM905.6 498.7h8.8v8.8h-8.8zM914.4 498.7h8.8v8.8h-8.8zM808.8 164.3h8.8v8.8h-8.8zM826.4 164.3h8.8v8.8h-8.8zM861.6 164.3h8.8v8.8h-8.8zM879.2 164.3h8.8v8.8h-8.8zM800.0 173.1h8.8v8.8h-8.8zM817.6 173.1h8.8v8.8h-8.8zM826.4 173.1h8.8v8.8h-8.8zM835.2 173.1h8.8v8.8h-8.8zM879.2 173.1h8.8v8.8h-8.8zM800.0 181.9h8.8v8.8h-8.8zM808.8 181.9h8.8v8.8h-8.8zM826.4 181.9h8.8v8.8h-8.8zM896.8 181.9h8.8v8.8h-8.8zM932.0 181.9h8.8v8.8h-8.8zM791.2 190.7h8.8v8.8h-8.8zM817.6 190.7h8.8v8.8h-8.8zM835.2 190.7h8.8v8.8h-8.8zM870.4 190.7h8.8v8.8h-8.8zM879.2 190.7h8.8v8.8h-8.8zM888.0 190.7h8.8v8.8h-8.8zM967.2 190.7h8.8v8.8h-8.8zM791.2 199.5h8.8v8.8h-8.8zM808.8 199.5h8.8v8.8h-8.8zM861.6 199.5h8.8v8.8h-8.8zM958.4 199.5h8.8v8.8h-8.8zM756.0 208.3h8.8v8.8h-8.8zM764.8 208.3h8.8v8.8h-8.8zM844.0 208.3h8.8v8.8h-8.8zM852.8 208.3h8.8v8.8h-8.8zM940.8 208.3h8.8v8.8h-8.8zM949.6 208.3h8.8v8.8h-8.8zM984.8 208.3h8.8v8.8h-8.8zM844.0 217.1h8.8v8.8h-8.8zM852.8 217.1h8.8v8.8h-8.8zM879.2 217.1h8.8v8.8h-8.8zM905.6 217.1h8.8v8.8h-8.8zM984.8 217.1h8.8v8.8h-8.8zM738.4 225.9h8.8v8.8h-8.8zM747.2 225.9h8.8v8.8h-8.8zM756.0 225.9h8.8v8.8h-8.8zM791.2 225.9h8.8v8.8h-8.8zM800.0 225.9h8.8v8.8h-8.8zM861.6 225.9h8.8v8.8h-8.8zM888.0 225.9h8.8v8.8h-8.8zM914.4 225.9h8.8v8.8h-8.8zM791.2 234.7h8.8v8.8h-8.8zM852.8 234.7h8.8v8.8h-8.8zM932.0 234.7h8.8v8.8h-8.8zM976.0 234.7h8.8v8.8h-8.8zM738.4 243.5h8.8v8.8h-8.8zM861.6 243.5h8.8v8.8h-8.8zM888.0 243.5h8.8v8.8h-8.8zM976.0 243.5h8.8v8.8h-8.8zM764.8 252.3h8.8v8.8h-8.8zM888.0 252.3h8.8v8.8h-8.8zM905.6 252.3h8.8v8.8h-8.8zM782.4 261.1h8.8v8.8h-8.8zM844.0 261.1h8.8v8.8h-8.8zM905.6 261.1h8.8v8.8h-8.8zM949.6 261.1h8.8v8.8h-8.8zM958.4 261.1h8.8v8.8h-8.8zM967.2 261.1h8.8v8.8h-8.8zM976.0 261.1h8.8v8.8h-8.8zM1011.2 261.1h8.8v8.8h-8.8zM1028.8 261.1h8.8v8.8h-8.8zM720.8 269.9h8.8v8.8h-8.8zM764.8 269.9h8.8v8.8h-8.8zM844.0 269.9h8.8v8.8h-8.8zM879.2 269.9h8.8v8.8h-8.8zM949.6 269.9h8.8v8.8h-8.8zM1011.2 269.9h8.8v8.8h-8.8zM1020.0 269.9h8.8v8.8h-8.8zM1028.8 269.9h8.8v8.8h-8.8zM756.0 278.7h8.8v8.8h-8.8zM782.4 278.7h8.8v8.8h-8.8zM870.4 278.7h8.8v8.8h-8.8zM888.0 278.7h8.8v8.8h-8.8zM896.8 278.7h8.8v8.8h-8.8zM932.0 278.7h8.8v8.8h-8.8zM958.4 278.7h8.8v8.8h-8.8zM1011.2 278.7h8.8v8.8h-8.8zM1037.6 278.7h8.8v8.8h-8.8zM712.0 287.5h8.8v8.8h-8.8zM729.6 287.5h8.8v8.8h-8.8zM773.6 287.5h8.8v8.8h-8.8zM800.0 287.5h8.8v8.8h-8.8zM808.8 287.5h8.8v8.8h-8.8zM844.0 287.5h8.8v8.8h-8.8zM861.6 287.5h8.8v8.8h-8.8zM870.4 287.5h8.8v8.8h-8.8zM879.2 287.5h8.8v8.8h-8.8zM888.0 287.5h8.8v8.8h-8.8zM896.8 287.5h8.8v8.8h-8.8zM976.0 287.5h8.8v8.8h-8.8zM984.8 287.5h8.8v8.8h-8.8zM993.6 287.5h8.8v8.8h-8.8zM703.2 296.3h8.8v8.8h-8.8zM712.0 296.3h8.8v8.8h-8.8zM720.8 296.3h8.8v8.8h-8.8zM756.0 296.3h8.8v8.8h-8.8zM764.8 296.3h8.8v8.8h-8.8zM773.6 296.3h8.8v8.8h-8.8zM800.0 296.3h8.8v8.8h-8.8zM808.8 296.3h8.8v8.8h-8.8zM861.6 296.3h8.8v8.8h-8.8zM879.2 296.3h8.8v8.8h-8.8zM888.0 296.3h8.8v8.8h-8.8zM896.8 296.3h8.8v8.8h-8.8zM914.4 296.3h8.8v8.8h-8.8zM940.8 296.3h8.8v8.8h-8.8zM791.2 305.1h8.8v8.8h-8.8zM861.6 305.1h8.8v8.8h-8.8zM888.0 305.1h8.8v8.8h-8.8zM905.6 305.1h8.8v8.8h-8.8zM914.4 305.1h8.8v8.8h-8.8zM932.0 305.1h8.8v8.8h-8.8zM1002.4 305.1h8.8v8.8h-8.8zM1020.0 305.1h8.8v8.8h-8.8zM1028.8 305.1h8.8v8.8h-8.8zM773.6 313.9h8.8v8.8h-8.8zM1011.2 313.9h8.8v8.8h-8.8zM1028.8 313.9h8.8v8.8h-8.8zM703.2 322.7h8.8v8.8h-8.8zM773.6 322.7h8.8v8.8h-8.8zM808.8 322.7h8.8v8.8h-8.8zM817.6 322.7h8.8v8.8h-8.8zM861.6 322.7h8.8v8.8h-8.8zM896.8 322.7h8.8v8.8h-8.8zM958.4 322.7h8.8v8.8h-8.8zM976.0 322.7h8.8v8.8h-8.8zM1037.6 322.7h8.8v8.8h-8.8zM694.4 331.5h8.8v8.8h-8.8zM808.8 331.5h8.8v8.8h-8.8zM844.0 331.5h8.8v8.8h-8.8zM852.8 331.5h8.8v8.8h-8.8zM888.0 331.5h8.8v8.8h-8.8zM976.0 331.5h8.8v8.8h-8.8zM993.6 331.5h8.8v8.8h-8.8zM738.4 340.3h8.8v8.8h-8.8zM791.2 340.3h8.8v8.8h-8.8zM800.0 340.3h8.8v8.8h-8.8zM817.6 340.3h8.8v8.8h-8.8zM852.8 340.3h8.8v8.8h-8.8zM896.8 340.3h8.8v8.8h-8.8zM932.0 340.3h8.8v8.8h-8.8zM967.2 340.3h8.8v8.8h-8.8zM694.4 349.1h8.8v8.8h-8.8zM764.8 349.1h8.8v8.8h-8.8zM773.6 349.1h8.8v8.8h-8.8zM808.8 349.1h8.8v8.8h-8.8zM852.8 349.1h8.8v8.8h-8.8zM888.0 349.1h8.8v8.8h-8.8zM949.6 349.1h8.8v8.8h-8.8zM984.8 349.1h8.8v8.8h-8.8zM993.6 349.1h8.8v8.8h-8.8zM1011.2 349.1h8.8v8.8h-8.8zM1028.8 349.1h8.8v8.8h-8.8zM773.6 357.9h8.8v8.8h-8.8zM844.0 357.9h8.8v8.8h-8.8zM896.8 357.9h8.8v8.8h-8.8zM905.6 357.9h8.8v8.8h-8.8zM976.0 357.9h8.8v8.8h-8.8zM984.8 357.9h8.8v8.8h-8.8zM993.6 357.9h8.8v8.8h-8.8zM729.6 366.7h8.8v8.8h-8.8zM764.8 366.7h8.8v8.8h-8.8zM844.0 366.7h8.8v8.8h-8.8zM879.2 366.7h8.8v8.8h-8.8zM905.6 366.7h8.8v8.8h-8.8zM914.4 366.7h8.8v8.8h-8.8zM923.2 366.7h8.8v8.8h-8.8zM940.8 366.7h8.8v8.8h-8.8zM949.6 366.7h8.8v8.8h-8.8zM993.6 366.7h8.8v8.8h-8.8zM1011.2 366.7h8.8v8.8h-8.8zM1037.6 366.7h8.8v8.8h-8.8zM764.8 375.5h8.8v8.8h-8.8zM782.4 375.5h8.8v8.8h-8.8zM835.2 375.5h8.8v8.8h-8.8zM870.4 375.5h8.8v8.8h-8.8zM879.2 375.5h8.8v8.8h-8.8zM896.8 375.5h8.8v8.8h-8.8zM949.6 375.5h8.8v8.8h-8.8zM958.4 375.5h8.8v8.8h-8.8zM993.6 375.5h8.8v8.8h-8.8zM1028.8 375.5h8.8v8.8h-8.8zM764.8 384.3h8.8v8.8h-8.8zM782.4 384.3h8.8v8.8h-8.8zM835.2 384.3h8.8v8.8h-8.8zM852.8 384.3h8.8v8.8h-8.8zM870.4 384.3h8.8v8.8h-8.8zM879.2 384.3h8.8v8.8h-8.8zM976.0 384.3h8.8v8.8h-8.8zM1011.2 384.3h8.8v8.8h-8.8zM1020.0 384.3h8.8v8.8h-8.8zM1037.6 384.3h8.8v8.8h-8.8zM747.2 393.1h8.8v8.8h-8.8zM764.8 393.1h8.8v8.8h-8.8zM808.8 393.1h8.8v8.8h-8.8zM844.0 393.1h8.8v8.8h-8.8zM888.0 393.1h8.8v8.8h-8.8zM914.4 393.1h8.8v8.8h-8.8zM984.8 393.1h8.8v8.8h-8.8zM747.2 401.9h8.8v8.8h-8.8zM773.6 401.9h8.8v8.8h-8.8zM835.2 401.9h8.8v8.8h-8.8zM844.0 401.9h8.8v8.8h-8.8zM861.6 401.9h8.8v8.8h-8.8zM870.4 401.9h8.8v8.8h-8.8zM888.0 401.9h8.8v8.8h-8.8zM967.2 401.9h8.8v8.8h-8.8zM1011.2 401.9h8.8v8.8h-8.8zM1020.0 401.9h8.8v8.8h-8.8zM729.6 410.7h8.8v8.8h-8.8zM738.4 410.7h8.8v8.8h-8.8zM747.2 410.7h8.8v8.8h-8.8zM861.6 410.7h8.8v8.8h-8.8zM879.2 410.7h8.8v8.8h-8.8zM958.4 410.7h8.8v8.8h-8.8zM984.8 410.7h8.8v8.8h-8.8zM1011.2 410.7h8.8v8.8h-8.8zM870.4 419.5h8.8v8.8h-8.8zM879.2 419.5h8.8v8.8h-8.8zM888.0 419.5h8.8v8.8h-8.8zM940.8 419.5h8.8v8.8h-8.8zM949.6 419.5h8.8v8.8h-8.8zM958.4 419.5h8.8v8.8h-8.8zM984.8 419.5h8.8v8.8h-8.8zM764.8 428.3h8.8v8.8h-8.8zM773.6 428.3h8.8v8.8h-8.8zM791.2 428.3h8.8v8.8h-8.8zM844.0 428.3h8.8v8.8h-8.8zM967.2 428.3h8.8v8.8h-8.8zM756.0 437.1h8.8v8.8h-8.8zM800.0 437.1h8.8v8.8h-8.8zM808.8 437.1h8.8v8.8h-8.8zM844.0 437.1h8.8v8.8h-8.8zM905.6 437.1h8.8v8.8h-8.8zM923.2 437.1h8.8v8.8h-8.8zM940.8 437.1h8.8v8.8h-8.8zM967.2 437.1h8.8v8.8h-8.8zM844.0 445.9h8.8v8.8h-8.8zM949.6 445.9h8.8v8.8h-8.8zM958.4 445.9h8.8v8.8h-8.8zM764.8 454.7h8.8v8.8h-8.8zM844.0 454.7h8.8v8.8h-8.8zM835.2 463.5h8.8v8.8h-8.8zM870.4 463.5h8.8v8.8h-8.8zM879.2 463.5h8.8v8.8h-8.8zM782.4 472.3h8.8v8.8h-8.8zM800.0 472.3h8.8v8.8h-8.8zM808.8 472.3h8.8v8.8h-8.8zM817.6 472.3h8.8v8.8h-8.8zM852.8 472.3h8.8v8.8h-8.8zM888.0 472.3h8.8v8.8h-8.8zM967.2 472.3h8.8v8.8h-8.8zM861.6 481.1h8.8v8.8h-8.8zM870.4 481.1h8.8v8.8h-8.8zM808.8 489.9h8.8v8.8h-8.8zM835.2 489.9h8.8v8.8h-8.8zM844.0 489.9h8.8v8.8h-8.8zM852.8 489.9h8.8v8.8h-8.8zM861.6 489.9h8.8v8.8h-8.8zM870.4 489.9h8.8v8.8h-8.8zM852.8 498.7h8.8v8.8h-8.8zM817.6 164.3h8.8v8.8h-8.8zM835.2 164.3h8.8v8.8h-8.8zM870.4 164.3h8.8v8.8h-8.8zM888.0 164.3h8.8v8.8h-8.8zM896.8 164.3h8.8v8.8h-8.8zM905.6 164.3h8.8v8.8h-8.8zM923.2 164.3h8.8v8.8h-8.8zM932.0 164.3h8.8v8.8h-8.8zM808.8 173.1h8.8v8.8h-8.8zM861.6 173.1h8.8v8.8h-8.8zM870.4 173.1h8.8v8.8h-8.8zM888.0 173.1h8.8v8.8h-8.8zM896.8 173.1h8.8v8.8h-8.8zM905.6 173.1h8.8v8.8h-8.8zM923.2 173.1h8.8v8.8h-8.8zM932.0 173.1h8.8v8.8h-8.8zM844.0 181.9h8.8v8.8h-8.8zM879.2 181.9h8.8v8.8h-8.8zM905.6 181.9h8.8v8.8h-8.8zM940.8 181.9h8.8v8.8h-8.8zM958.4 181.9h8.8v8.8h-8.8zM773.6 190.7h8.8v8.8h-8.8zM808.8 190.7h8.8v8.8h-8.8zM826.4 190.7h8.8v8.8h-8.8zM923.2 190.7h8.8v8.8h-8.8zM932.0 190.7h8.8v8.8h-8.8zM949.6 190.7h8.8v8.8h-8.8zM958.4 190.7h8.8v8.8h-8.8zM817.6 199.5h8.8v8.8h-8.8zM826.4 199.5h8.8v8.8h-8.8zM870.4 199.5h8.8v8.8h-8.8zM888.0 199.5h8.8v8.8h-8.8zM896.8 199.5h8.8v8.8h-8.8zM905.6 199.5h8.8v8.8h-8.8zM932.0 199.5h8.8v8.8h-8.8zM940.8 199.5h8.8v8.8h-8.8zM967.2 199.5h8.8v8.8h-8.8zM976.0 199.5h8.8v8.8h-8.8zM870.4 208.3h8.8v8.8h-8.8zM888.0 208.3h8.8v8.8h-8.8zM914.4 208.3h8.8v8.8h-8.8zM747.2 217.1h8.8v8.8h-8.8zM756.0 217.1h8.8v8.8h-8.8zM764.8 217.1h8.8v8.8h-8.8zM861.6 217.1h8.8v8.8h-8.8zM870.4 217.1h8.8v8.8h-8.8zM896.8 217.1h8.8v8.8h-8.8zM914.4 217.1h8.8v8.8h-8.8zM923.2 217.1h8.8v8.8h-8.8zM932.0 217.1h8.8v8.8h-8.8zM940.8 217.1h8.8v8.8h-8.8zM967.2 217.1h8.8v8.8h-8.8zM764.8 225.9h8.8v8.8h-8.8zM773.6 225.9h8.8v8.8h-8.8zM870.4 225.9h8.8v8.8h-8.8zM923.2 225.9h8.8v8.8h-8.8zM932.0 225.9h8.8v8.8h-8.8zM984.8 225.9h8.8v8.8h-8.8zM1002.4 225.9h8.8v8.8h-8.8zM773.6 234.7h8.8v8.8h-8.8zM870.4 234.7h8.8v8.8h-8.8zM984.8 234.7h8.8v8.8h-8.8zM993.6 234.7h8.8v8.8h-8.8zM1002.4 234.7h8.8v8.8h-8.8zM879.2 243.5h8.8v8.8h-8.8zM932.0 243.5h8.8v8.8h-8.8zM949.6 243.5h8.8v8.8h-8.8zM896.8 252.3h8.8v8.8h-8.8zM976.0 252.3h8.8v8.8h-8.8zM747.2 261.1h8.8v8.8h-8.8zM773.6 261.1h8.8v8.8h-8.8zM896.8 261.1h8.8v8.8h-8.8zM932.0 261.1h8.8v8.8h-8.8zM940.8 261.1h8.8v8.8h-8.8zM984.8 261.1h8.8v8.8h-8.8zM993.6 261.1h8.8v8.8h-8.8zM1020.0 261.1h8.8v8.8h-8.8zM729.6 269.9h8.8v8.8h-8.8zM888.0 269.9h8.8v8.8h-8.8zM993.6 269.9h8.8v8.8h-8.8zM712.0 278.7h8.8v8.8h-8.8zM729.6 278.7h8.8v8.8h-8.8zM773.6 278.7h8.8v8.8h-8.8zM791.2 278.7h8.8v8.8h-8.8zM923.2 278.7h8.8v8.8h-8.8zM1020.0 278.7h8.8v8.8h-8.8zM756.0 287.5h8.8v8.8h-8.8zM764.8 287.5h8.8v8.8h-8.8zM905.6 287.5h8.8v8.8h-8.8zM932.0 287.5h8.8v8.8h-8.8zM940.8 287.5h8.8v8.8h-8.8zM1002.4 287.5h8.8v8.8h-8.8zM852.8 296.3h8.8v8.8h-8.8zM870.4 296.3h8.8v8.8h-8.8zM923.2 296.3h8.8v8.8h-8.8zM949.6 296.3h8.8v8.8h-8.8zM967.2 296.3h8.8v8.8h-8.8zM984.8 296.3h8.8v8.8h-8.8zM993.6 296.3h8.8v8.8h-8.8zM1037.6 296.3h8.8v8.8h-8.8zM773.6 305.1h8.8v8.8h-8.8zM870.4 305.1h8.8v8.8h-8.8zM896.8 305.1h8.8v8.8h-8.8zM923.2 305.1h8.8v8.8h-8.8zM993.6 305.1h8.8v8.8h-8.8zM1011.2 305.1h8.8v8.8h-8.8zM1037.6 305.1h8.8v8.8h-8.8zM808.8 313.9h8.8v8.8h-8.8zM967.2 313.9h8.8v8.8h-8.8zM1002.4 313.9h8.8v8.8h-8.8zM1020.0 313.9h8.8v8.8h-8.8zM932.0 322.7h8.8v8.8h-8.8zM993.6 322.7h8.8v8.8h-8.8zM1011.2 322.7h8.8v8.8h-8.8zM1028.8 322.7h8.8v8.8h-8.8zM896.8 331.5h8.8v8.8h-8.8zM923.2 331.5h8.8v8.8h-8.8zM932.0 331.5h8.8v8.8h-8.8zM1002.4 331.5h8.8v8.8h-8.8zM1028.8 331.5h8.8v8.8h-8.8zM703.2 340.3h8.8v8.8h-8.8zM773.6 340.3h8.8v8.8h-8.8zM808.8 340.3h8.8v8.8h-8.8zM844.0 340.3h8.8v8.8h-8.8zM923.2 340.3h8.8v8.8h-8.8zM993.6 340.3h8.8v8.8h-8.8zM1037.6 340.3h8.8v8.8h-8.8zM703.2 349.1h8.8v8.8h-8.8zM844.0 349.1h8.8v8.8h-8.8zM896.8 349.1h8.8v8.8h-8.8zM932.0 349.1h8.8v8.8h-8.8zM967.2 349.1h8.8v8.8h-8.8zM1002.4 349.1h8.8v8.8h-8.8zM1020.0 349.1h8.8v8.8h-8.8zM861.6 357.9h8.8v8.8h-8.8zM870.4 357.9h8.8v8.8h-8.8zM923.2 357.9h8.8v8.8h-8.8zM940.8 357.9h8.8v8.8h-8.8zM958.4 357.9h8.8v8.8h-8.8zM1002.4 357.9h8.8v8.8h-8.8zM1011.2 357.9h8.8v8.8h-8.8zM1028.8 357.9h8.8v8.8h-8.8zM932.0 366.7h8.8v8.8h-8.8zM1002.4 366.7h8.8v8.8h-8.8zM844.0 375.5h8.8v8.8h-8.8zM905.6 375.5h8.8v8.8h-8.8zM932.0 375.5h8.8v8.8h-8.8zM1002.4 375.5h8.8v8.8h-8.8zM800.0 384.3h8.8v8.8h-8.8zM888.0 384.3h8.8v8.8h-8.8zM905.6 384.3h8.8v8.8h-8.8zM914.4 384.3h8.8v8.8h-8.8zM932.0 384.3h8.8v8.8h-8.8zM984.8 384.3h8.8v8.8h-8.8zM1028.8 384.3h8.8v8.8h-8.8zM782.4 393.1h8.8v8.8h-8.8zM800.0 393.1h8.8v8.8h-8.8zM835.2 393.1h8.8v8.8h-8.8zM870.4 393.1h8.8v8.8h-8.8zM879.2 401.9h8.8v8.8h-8.8zM1002.4 401.9h8.8v8.8h-8.8zM773.6 410.7h8.8v8.8h-8.8zM932.0 410.7h8.8v8.8h-8.8zM940.8 410.7h8.8v8.8h-8.8zM967.2 410.7h8.8v8.8h-8.8zM1002.4 410.7h8.8v8.8h-8.8zM1020.0 410.7h8.8v8.8h-8.8zM976.0 419.5h8.8v8.8h-8.8zM1002.4 428.3h8.8v8.8h-8.8zM1011.2 428.3h8.8v8.8h-8.8zM747.2 437.1h8.8v8.8h-8.8zM1002.4 437.1h8.8v8.8h-8.8zM756.0 445.9h8.8v8.8h-8.8zM782.4 445.9h8.8v8.8h-8.8zM791.2 445.9h8.8v8.8h-8.8zM967.2 445.9h8.8v8.8h-8.8zM800.0 454.7h8.8v8.8h-8.8zM764.8 463.5h8.8v8.8h-8.8zM844.0 463.5h8.8v8.8h-8.8zM888.0 463.5h8.8v8.8h-8.8zM879.2 472.3h8.8v8.8h-8.8zM844.0 481.1h8.8v8.8h-8.8zM896.8 481.1h8.8v8.8h-8.8zM844.0 498.7h8.8v8.8h-8.8zM844.0 164.3h8.8v8.8h-8.8zM852.8 164.3h8.8v8.8h-8.8zM844.0 173.1h8.8v8.8h-8.8zM852.8 173.1h8.8v8.8h-8.8zM888.0 181.9h8.8v8.8h-8.8zM914.4 181.9h8.8v8.8h-8.8zM923.2 181.9h8.8v8.8h-8.8zM949.6 181.9h8.8v8.8h-8.8zM844.0 190.7h8.8v8.8h-8.8zM896.8 190.7h8.8v8.8h-8.8zM905.6 190.7h8.8v8.8h-8.8zM914.4 190.7h8.8v8.8h-8.8zM940.8 190.7h8.8v8.8h-8.8zM773.6 199.5h8.8v8.8h-8.8zM782.4 199.5h8.8v8.8h-8.8zM835.2 199.5h8.8v8.8h-8.8zM844.0 199.5h8.8v8.8h-8.8zM852.8 199.5h8.8v8.8h-8.8zM879.2 199.5h8.8v8.8h-8.8zM914.4 199.5h8.8v8.8h-8.8zM923.2 199.5h8.8v8.8h-8.8zM949.6 199.5h8.8v8.8h-8.8zM773.6 208.3h8.8v8.8h-8.8zM782.4 208.3h8.8v8.8h-8.8zM923.2 208.3h8.8v8.8h-8.8zM967.2 208.3h8.8v8.8h-8.8zM976.0 208.3h8.8v8.8h-8.8zM773.6 217.1h8.8v8.8h-8.8zM782.4 217.1h8.8v8.8h-8.8zM976.0 217.1h8.8v8.8h-8.8zM958.4 225.9h8.8v8.8h-8.8zM967.2 225.9h8.8v8.8h-8.8zM976.0 225.9h8.8v8.8h-8.8zM958.4 234.7h8.8v8.8h-8.8zM967.2 234.7h8.8v8.8h-8.8zM773.6 243.5h8.8v8.8h-8.8zM870.4 243.5h8.8v8.8h-8.8zM923.2 243.5h8.8v8.8h-8.8zM984.8 243.5h8.8v8.8h-8.8zM993.6 243.5h8.8v8.8h-8.8zM1002.4 243.5h8.8v8.8h-8.8zM747.2 252.3h8.8v8.8h-8.8zM773.6 252.3h8.8v8.8h-8.8zM879.2 252.3h8.8v8.8h-8.8zM914.4 252.3h8.8v8.8h-8.8zM923.2 252.3h8.8v8.8h-8.8zM984.8 252.3h8.8v8.8h-8.8zM993.6 252.3h8.8v8.8h-8.8zM1002.4 252.3h8.8v8.8h-8.8zM879.2 261.1h8.8v8.8h-8.8zM888.0 261.1h8.8v8.8h-8.8zM914.4 261.1h8.8v8.8h-8.8zM923.2 261.1h8.8v8.8h-8.8zM1002.4 261.1h8.8v8.8h-8.8zM773.6 269.9h8.8v8.8h-8.8zM896.8 269.9h8.8v8.8h-8.8zM905.6 269.9h8.8v8.8h-8.8zM967.2 269.9h8.8v8.8h-8.8zM976.0 269.9h8.8v8.8h-8.8zM984.8 269.9h8.8v8.8h-8.8zM1002.4 269.9h8.8v8.8h-8.8zM720.8 278.7h8.8v8.8h-8.8zM852.8 278.7h8.8v8.8h-8.8zM861.6 278.7h8.8v8.8h-8.8zM967.2 278.7h8.8v8.8h-8.8zM976.0 278.7h8.8v8.8h-8.8zM984.8 278.7h8.8v8.8h-8.8zM993.6 278.7h8.8v8.8h-8.8zM1002.4 278.7h8.8v8.8h-8.8zM720.8 287.5h8.8v8.8h-8.8zM852.8 287.5h8.8v8.8h-8.8zM923.2 287.5h8.8v8.8h-8.8zM949.6 287.5h8.8v8.8h-8.8zM958.4 287.5h8.8v8.8h-8.8zM905.6 296.3h8.8v8.8h-8.8zM932.0 296.3h8.8v8.8h-8.8zM1002.4 296.3h8.8v8.8h-8.8zM1011.2 296.3h8.8v8.8h-8.8zM1020.0 296.3h8.8v8.8h-8.8zM1028.8 296.3h8.8v8.8h-8.8zM976.0 313.9h8.8v8.8h-8.8zM984.8 313.9h8.8v8.8h-8.8zM993.6 313.9h8.8v8.8h-8.8zM923.2 322.7h8.8v8.8h-8.8zM1002.4 322.7h8.8v8.8h-8.8zM1020.0 322.7h8.8v8.8h-8.8zM773.6 331.5h8.8v8.8h-8.8zM1020.0 331.5h8.8v8.8h-8.8zM1002.4 340.3h8.8v8.8h-8.8zM1011.2 340.3h8.8v8.8h-8.8zM1020.0 340.3h8.8v8.8h-8.8zM1028.8 340.3h8.8v8.8h-8.8zM861.6 349.1h8.8v8.8h-8.8zM923.2 349.1h8.8v8.8h-8.8zM976.0 349.1h8.8v8.8h-8.8zM932.0 357.9h8.8v8.8h-8.8zM967.2 357.9h8.8v8.8h-8.8zM1020.0 357.9h8.8v8.8h-8.8zM773.6 366.7h8.8v8.8h-8.8zM1020.0 366.7h8.8v8.8h-8.8zM1028.8 366.7h8.8v8.8h-8.8zM773.6 375.5h8.8v8.8h-8.8zM914.4 375.5h8.8v8.8h-8.8zM923.2 375.5h8.8v8.8h-8.8zM773.6 384.3h8.8v8.8h-8.8zM844.0 384.3h8.8v8.8h-8.8zM896.8 384.3h8.8v8.8h-8.8zM923.2 384.3h8.8v8.8h-8.8zM773.6 393.1h8.8v8.8h-8.8zM923.2 393.1h8.8v8.8h-8.8zM923.2 401.9h8.8v8.8h-8.8zM923.2 410.7h8.8v8.8h-8.8zM923.2 419.5h8.8v8.8h-8.8zM1002.4 419.5h8.8v8.8h-8.8zM932.0 428.3h8.8v8.8h-8.8zM773.6 445.9h8.8v8.8h-8.8zM773.6 454.7h8.8v8.8h-8.8zM782.4 454.7h8.8v8.8h-8.8zM791.2 454.7h8.8v8.8h-8.8zM773.6 463.5h8.8v8.8h-8.8zM844.0 472.3h8.8v8.8h-8.8zM896.8 472.3h8.8v8.8h-8.8z"/>
<path d="M813 232 q10 -6 20 -2 q9 3 12 12 q2 10 -3 20 q-2 9 -12 12 q-10 2 -17 -4 q-5 -6 -2 -14 q-5 -10 2 -24z" fill="#d3d7e0" opacity="0.9"/>
<path d="M808 274 q20 -4 40 6" fill="none" stroke="#f2f4f8" stroke-width="2"/>
<text x="783.7" y="192.3" font-size="6.5" text-anchor="middle" fill="#6b6d80" stroke="#ffffff" stroke-width="1.4" stroke-opacity="0.85" paint-order="stroke" font-family="'Liberation Sans','Noto Sans CJK SC',sans-serif">新江天曙</text>
<text x="791.6" y="229.3" font-size="6.5" text-anchor="middle" fill="#6b6d80" stroke="#ffffff" stroke-width="1.4" stroke-opacity="0.85" paint-order="stroke" font-family="'Liberation Sans','Noto Sans CJK SC',sans-serif">新韶西路</text>
<text x="758.7" y="249.3" font-size="6.5" text-anchor="middle" fill="#6b6d80" stroke="#ffffff" stroke-width="1.4" stroke-opacity="0.85" paint-order="stroke" font-family="'Liberation Sans','Noto Sans CJK SC',sans-serif">阳德中学</text>
<text x="721.0" y="251.3" font-size="6.5" text-anchor="middle" fill="#6b6d80" stroke="#ffffff" stroke-width="1.4" stroke-opacity="0.85" paint-order="stroke" font-family="'Liberation Sans','Noto Sans CJK SC',sans-serif">公寓</text>
<text x="723.7" y="270.3" font-size="6.5" text-anchor="middle" fill="#6b6d80" stroke="#ffffff" stroke-width="1.4" stroke-opacity="0.85" paint-order="stroke" font-family="'Liberation Sans','Noto Sans CJK SC',sans-serif">东塘公园</text>
<text x="829.0" y="265.7" font-size="6.5" text-anchor="middle" fill="#6b6d80" stroke="#ffffff" stroke-width="1.4" stroke-opacity="0.85" paint-order="stroke" font-family="'Liberation Sans','Noto Sans CJK SC',sans-serif">湖南省政府</text>
<text x="813.4" y="293.9" font-size="6.5" text-anchor="middle" fill="#6b6d80" stroke="#ffffff" stroke-width="1.4" stroke-opacity="0.85" paint-order="stroke" font-family="'Liberation Sans','Noto Sans CJK SC',sans-serif">鑫远尚富</text>
<text x="851.0" y="297.0" font-size="6.5" text-anchor="middle" fill="#6b6d80" stroke="#ffffff" stroke-width="1.4" stroke-opacity="0.85" paint-order="stroke" font-family="'Liberation Sans','Noto Sans CJK SC',sans-serif">省政府·滨风</text>
<text x="835.3" y="305.3" font-size="6.5" text-anchor="middle" fill="#6b6d80" stroke="#ffffff" stroke-width="1.4" stroke-opacity="0.85" paint-order="stroke" font-family="'Liberation Sans','Noto Sans CJK SC',sans-serif">杉木冲西路</text>
<text x="718.7" y="299.3" font-size="6.5" text-anchor="middle" fill="#6b6d80" stroke="#ffffff" stroke-width="1.4" stroke-opacity="0.85" paint-order="stroke" font-family="'Liberation Sans','Noto Sans CJK SC',sans-serif">大汉新城</text>
<text x="765.0" y="309.8" font-size="6.5" text-anchor="middle" fill="#6b6d80" stroke="#ffffff" stroke-width="1.4" stroke-opacity="0.85" paint-order="stroke" font-family="'Liberation Sans','Noto Sans CJK SC',sans-serif">保利花园</text>
<text x="852.5" y="315.7" font-size="6.5" text-anchor="middle" fill="#6b6d80" stroke="#ffffff" stroke-width="1.4" stroke-opacity="0.85" paint-order="stroke" font-family="'Liberation Sans','Noto Sans CJK SC',sans-serif">鑫远·</text>
<text x="932.5" y="196.0" font-size="6.5" text-anchor="middle" fill="#6b6d80" stroke="#ffffff" stroke-width="1.4" stroke-opacity="0.85" paint-order="stroke" font-family="'Liberation Sans','Noto Sans CJK SC',sans-serif">友谊路</text>
<text x="954.4" y="208.3" font-size="6.5" text-anchor="middle" fill="#6b6d80" stroke="#ffffff" stroke-width="1.4" stroke-opacity="0.85" paint-order="stroke" font-family="'Liberation Sans','Noto Sans CJK SC',sans-serif">井湾子</text>
<text x="915.3" y="217.3" font-size="6.5" text-anchor="middle" fill="#6b6d80" stroke="#ffffff" stroke-width="1.4" stroke-opacity="0.85" paint-order="stroke" font-family="'Liberation Sans','Noto Sans CJK SC',sans-serif">嘉兴鑫城</text>
<text x="988.7" y="237.6" font-size="6.5" text-anchor="middle" fill="#6b6d80" stroke="#ffffff" stroke-width="1.4" stroke-opacity="0.85" paint-order="stroke" font-family="'Liberation Sans','Noto Sans CJK SC',sans-serif">正塘路</text>
<text x="921.6" y="255.3" font-size="6.5" text-anchor="middle" fill="#6b6d80" stroke="#ffffff" stroke-width="1.4" stroke-opacity="0.85" paint-order="stroke" font-family="'Liberation Sans','Noto Sans CJK SC',sans-serif">青园小学</text>
<text x="974.7" y="267.9" font-size="6.5" text-anchor="middle" fill="#6b6d80" stroke="#ffffff" stroke-width="1.4" stroke-opacity="0.85" paint-order="stroke" font-family="'Liberation Sans','Noto Sans CJK SC',sans-serif">湖南女子学院</text>
<text x="920.0" y="289.3" font-size="6.5" text-anchor="middle" fill="#6b6d80" stroke="#ffffff" stroke-width="1.4" stroke-opacity="0.85" paint-order="stroke" font-family="'Liberation Sans','Noto Sans CJK SC',sans-serif">湖南9号</text>
<text x="988.7" y="294.3" font-size="6.5" text-anchor="middle" fill="#6b6d80" stroke="#ffffff" stroke-width="1.4" stroke-opacity="0.85" paint-order="stroke" font-family="'Liberation Sans','Noto Sans CJK SC',sans-serif">德思勤城市广场</text>
<text x="928.0" y="319.6" font-size="6.5" text-anchor="middle" fill="#6b6d80" stroke="#ffffff" stroke-width="1.4" stroke-opacity="0.85" paint-order="stroke" font-family="'Liberation Sans','Noto Sans CJK SC',sans-serif">长沙奥林匹克花园</text>
<text x="728.5" y="383.3" font-size="6.5" text-anchor="middle" fill="#6b6d80" stroke="#ffffff" stroke-width="1.4" stroke-opacity="0.85" paint-order="stroke" font-family="'Liberation Sans','Noto Sans CJK SC',sans-serif">东村商业银行</text>
<text x="821.6" y="402.6" font-size="6.5" text-anchor="middle" fill="#6b6d80" stroke="#ffffff" stroke-width="1.4" stroke-opacity="0.85" paint-order="stroke" font-family="'Liberation Sans','Noto Sans CJK SC',sans-serif">雀园路</text>
<text x="861.0" y="375.3" font-size="6.5" text-anchor="middle" fill="#6b6d80" stroke="#ffffff" stroke-width="1.4" stroke-opacity="0.85" paint-order="stroke" font-family="'Liberation Sans','Noto Sans CJK SC',sans-serif">桂花坪</text>
<text x="897.7" y="380.1" font-size="6.5" text-anchor="middle" fill="#6b6d80" stroke="#ffffff" stroke-width="1.4" stroke-opacity="0.85" paint-order="stroke" font-family="'Liberation Sans','Noto Sans CJK SC',sans-serif">桂花坪</text>
<text x="941.6" y="376.0" font-size="6.5" text-anchor="middle" fill="#6b6d80" stroke="#ffffff" stroke-width="1.4" stroke-opacity="0.85" paint-order="stroke" font-family="'Liberation Sans','Noto Sans CJK SC',sans-serif">才子嘉园</text>
<text x="1012.7" y="390.3" font-size="6.5" text-anchor="middle" fill="#6b6d80" stroke="#ffffff" stroke-width="1.4" stroke-opacity="0.85" paint-order="stroke" font-family="'Liberation Sans','Noto Sans CJK SC',sans-serif">长沙汽车南站</text>
<text x="1012.7" y="397.9" font-size="6.5" text-anchor="middle" fill="#6b6d80" stroke="#ffffff" stroke-width="1.4" stroke-opacity="0.85" paint-order="stroke" font-family="'Liberation Sans','Noto Sans CJK SC',sans-serif">综合交通枢纽</text>
<text x="923.8" y="413.1" font-size="6.5" text-anchor="middle" fill="#6b6d80" stroke="#ffffff" stroke-width="1.4" stroke-opacity="0.85" paint-order="stroke" font-family="'Liberation Sans','Noto Sans CJK SC',sans-serif">湖南职业学院</text>
<text x="943.4" y="434.0" font-size="6.5" text-anchor="middle" fill="#6b6d80" stroke="#ffffff" stroke-width="1.4" stroke-opacity="0.85" paint-order="stroke" font-family="'Liberation Sans','Noto Sans CJK SC',sans-serif">雅尼斯酒店</text>
<text x="869.9" y="437.0" font-size="6.5" text-anchor="middle" fill="#6b6d80" stroke="#ffffff" stroke-width="1.4" stroke-opacity="0.85" paint-order="stroke" font-family="'Liberation Sans','Noto Sans CJK SC',sans-serif">景馨社区公园</text>
<text x="788.4" y="464.0" font-size="6.5" text-anchor="middle" fill="#6b6d80" stroke="#ffffff" stroke-width="1.4" stroke-opacity="0.85" paint-order="stroke" font-family="'Liberation Sans','Noto Sans CJK SC',sans-serif">金天小学</text>
<text x="865.3" y="485.0" font-size="6.5" text-anchor="middle" fill="#6b6d80" stroke="#ffffff" stroke-width="1.4" stroke-opacity="0.85" paint-order="stroke" font-family="'Liberation Sans','Noto Sans CJK SC',sans-serif">大托</text>
<text x="916.6" y="485.0" font-size="6.5" text-anchor="middle" fill="#6b6d80" stroke="#ffffff" stroke-width="1.4" stroke-opacity="0.85" paint-order="stroke" font-family="'Liberation Sans','Noto Sans CJK SC',sans-serif">中建·芙蓉嘉苑</text>
<text x="899.5" y="505.3" font-size="6.5" text-anchor="middle" fill="#6b6d80" stroke="#ffffff" stroke-width="1.4" stroke-opacity="0.85" paint-order="stroke" font-family="'Liberation Sans','Noto Sans CJK SC',sans-serif">长沙南站</text>
<text x="948.2" y="466.6" font-size="6.5" text-anchor="middle" fill="#6b6d80" stroke="#ffffff" stroke-width="1.4" stroke-opacity="0.85" paint-order="stroke" font-family="'Liberation Sans','Noto Sans CJK SC',sans-serif">洞井互通</text>
<text x="997.7" y="448.3" font-size="6.5" text-anchor="middle" fill="#6b6d80" stroke="#ffffff" stroke-width="1.4" stroke-opacity="0.85" paint-order="stroke" font-family="'Liberation Sans','Noto Sans CJK SC',sans-serif">万芙南路</text>
<text x="761.0" y="429.9" font-size="6.5" text-anchor="middle" fill="#6b6d80" stroke="#ffffff" stroke-width="1.4" stroke-opacity="0.85" paint-order="stroke" font-family="'Liberation Sans','Noto Sans CJK SC',sans-serif">大托石湾</text>
<text x="1010.0" y="356.3" font-size="6.5" text-anchor="middle" fill="#6b6d80" stroke="#ffffff" stroke-width="1.4" stroke-opacity="0.85" paint-order="stroke" font-family="'Liberation Sans','Noto Sans CJK SC',sans-serif">国际商汇中心</text>
</g>
<circle cx="877" cy="334.5" r="177.2" fill="none" stroke="#ffffff" stroke-opacity="0.55" stroke-width="3.5"/>
<circle cx="877" cy="334.5" r="178.6" fill="none" stroke="#d8dbe3" stroke-width="0.8"/>
<circle cx="876" cy="334.5" r="175.5" fill="none" stroke="#6b8ff0" stroke-width="1"/>
<ellipse cx="876.4" cy="334" rx="5.9" ry="1.9" fill="#3a8fd6"/>
<path d="M876.4 332.3 L871.9 327.3 A4.9 4.9 0 1 1 880.9 327.3 Z" fill="#1b6fe3" stroke="#ffffff" stroke-width="0.6"/>
<circle cx="876.4" cy="325.7" r="1.7" fill="#e8f2ff"/>
<rect x="868.4" y="308.2" width="15.2" height="10.3" fill="#ffffff" stroke="#3554c4" stroke-width="0.9"/>
<text x="876" y="316.2" font-size="7" fill="#333333" text-anchor="middle" font-family="'Liberation Sans','Noto Sans CJK SC',sans-serif" font-weight="normal" >3km</text>
<text x="895.5" y="517" font-size="11" fill="#1a1a1a" text-anchor="middle" font-family="'Liberation Sans','Noto Sans CJK SC',sans-serif" font-weight="normal" >人口热力图</text>
<text x="895.5" y="530" font-size="11" fill="#1a1a1a" text-anchor="middle" font-family="'Liberation Sans','Noto Sans CJK SC',sans-serif" font-weight="normal" letter-spacing="0.4">（ 注：数据来源于数位观察 ）</text>
<text x="665.6" y="111.5" font-size="18" fill="#000000" text-anchor="start" font-family="'Liberation Serif','Noto Serif CJK SC',serif" font-weight="900" >3KM半径常住人口:</text>
<text x="665.6" y="143" font-size="18" fill="#000000" text-anchor="start" font-family="'Liberation Serif','Noto Serif CJK SC',serif" font-weight="900" >人口集中在：<tspan letter-spacing="1.6" font-size="19">19-44</tspan>岁</text>
<text x="913" y="112" font-size="19" fill="#f00000" text-anchor="start" font-family="'Liberation Serif','Noto Serif CJK SC',serif" font-weight="bold" letter-spacing="1.2" stroke="#f00000" stroke-width="0.35" style="filter:drop-shadow(0.8px 0.9px 0.5px rgba(60,0,0,0.4))">26.45W</text>
<text x="909" y="143.5" font-size="18" fill="#f00000" text-anchor="start" font-family="'Liberation Serif','Noto Serif CJK SC',serif" font-weight="900" stroke="#f00000" stroke-width="0.35" style="filter:drop-shadow(0.8px 0.9px 0.5px rgba(60,0,0,0.4))">人口结构年轻</text>
<text x="756" y="177" font-size="18" fill="#ff0000" text-anchor="start" font-family="'Liberation Serif','Noto Serif CJK SC',serif" font-weight="900" stroke="#f00000" stroke-width="0.35" style="filter:drop-shadow(0.8px 0.9px 0.5px rgba(60,0,0,0.4))">★受教育阶段人口比率较高</text>
<text x="896" y="75" font-size="18.5" fill="#1c4f9f" text-anchor="start" font-family="'Liberation Sans','Noto Sans CJK SC',sans-serif" font-weight="bold" stroke="#1c4f9f" stroke-width="0.6">B</text>
<circle cx="915.5" cy="68" r="6.2" fill="none" stroke="#e53a2f" stroke-width="2.6"/>
<path d="M912.5 68 a3 3 0 0 1 5.5 -1.5" fill="none" stroke="#e53a2f" stroke-width="1.4"/>
<text x="922.5" y="75" font-size="18.5" fill="#1c4f9f" text-anchor="start" font-family="'Liberation Sans','Noto Sans CJK SC',sans-serif" font-weight="bold" stroke="#1c4f9f" stroke-width="0.6" textLength="33" lengthAdjust="spacingAndGlyphs">SEN</text>
<rect x="956" y="73" width="2.5" height="2.5" fill="#e53a2f"/>
<text x="924.5" y="79.3" font-size="3.4" fill="#1c4f9f" text-anchor="start" font-family="'Liberation Sans','Noto Sans CJK SC',sans-serif" font-weight="bold" textLength="33" lengthAdjust="spacingAndGlyphs">SPORTS MANAGEMENT</text>
<text x="962" y="75.5" font-size="14.5" fill="#1d55a5" text-anchor="start" font-family="'Liberation Sans','Noto Sans CJK SC',sans-serif" font-weight="bold" >博森体育</text>
<g fill="none" stroke="#2a7fd8" stroke-width="1.6" stroke-linecap="round"><path d="M884 546 q3 -2 6 0 t6 0 t6 0"/><path d="M881 552 q3 -2.5 6.5 0 t6.5 0 t6.5 0"/><path d="M879 558.5 q3.5 -2.5 7 0 t7 0 t7 0 t7 0" stroke="#1e6fd0"/></g>
<g fill="#f0a030"><circle cx="893" cy="549" r="0.9"/><circle cx="899" cy="555" r="0.9"/><circle cx="889" cy="555.5" r="0.8"/></g>
<text x="893" y="564" font-size="2.6" fill="#555555" text-anchor="middle" font-family="'Liberation Sans','Noto Sans CJK SC',sans-serif" font-weight="normal" >Tianxin</text>
<path d="M924.5 542.8 q-6.5 2.5 -5 8.2 q0.8 -5 5 -8.2z" fill="#f2a04a"/>
<text x="926.7" y="550" font-size="3.6" fill="#1a5cb8" text-anchor="start" font-family="'Liberation Sans','Noto Sans CJK SC',sans-serif" font-weight="bold" >TIANXIN CULTURE AND SPORTS DEMONSTRATION BASE</text>
<text x="915.5" y="563.8" font-size="11.2" fill="#1a5cb8" text-anchor="start" font-family="'Liberation Sans','Noto Sans CJK SC',sans-serif" font-weight="bold" >天心文化体育示范基地</text>
</svg>
</body></html>
